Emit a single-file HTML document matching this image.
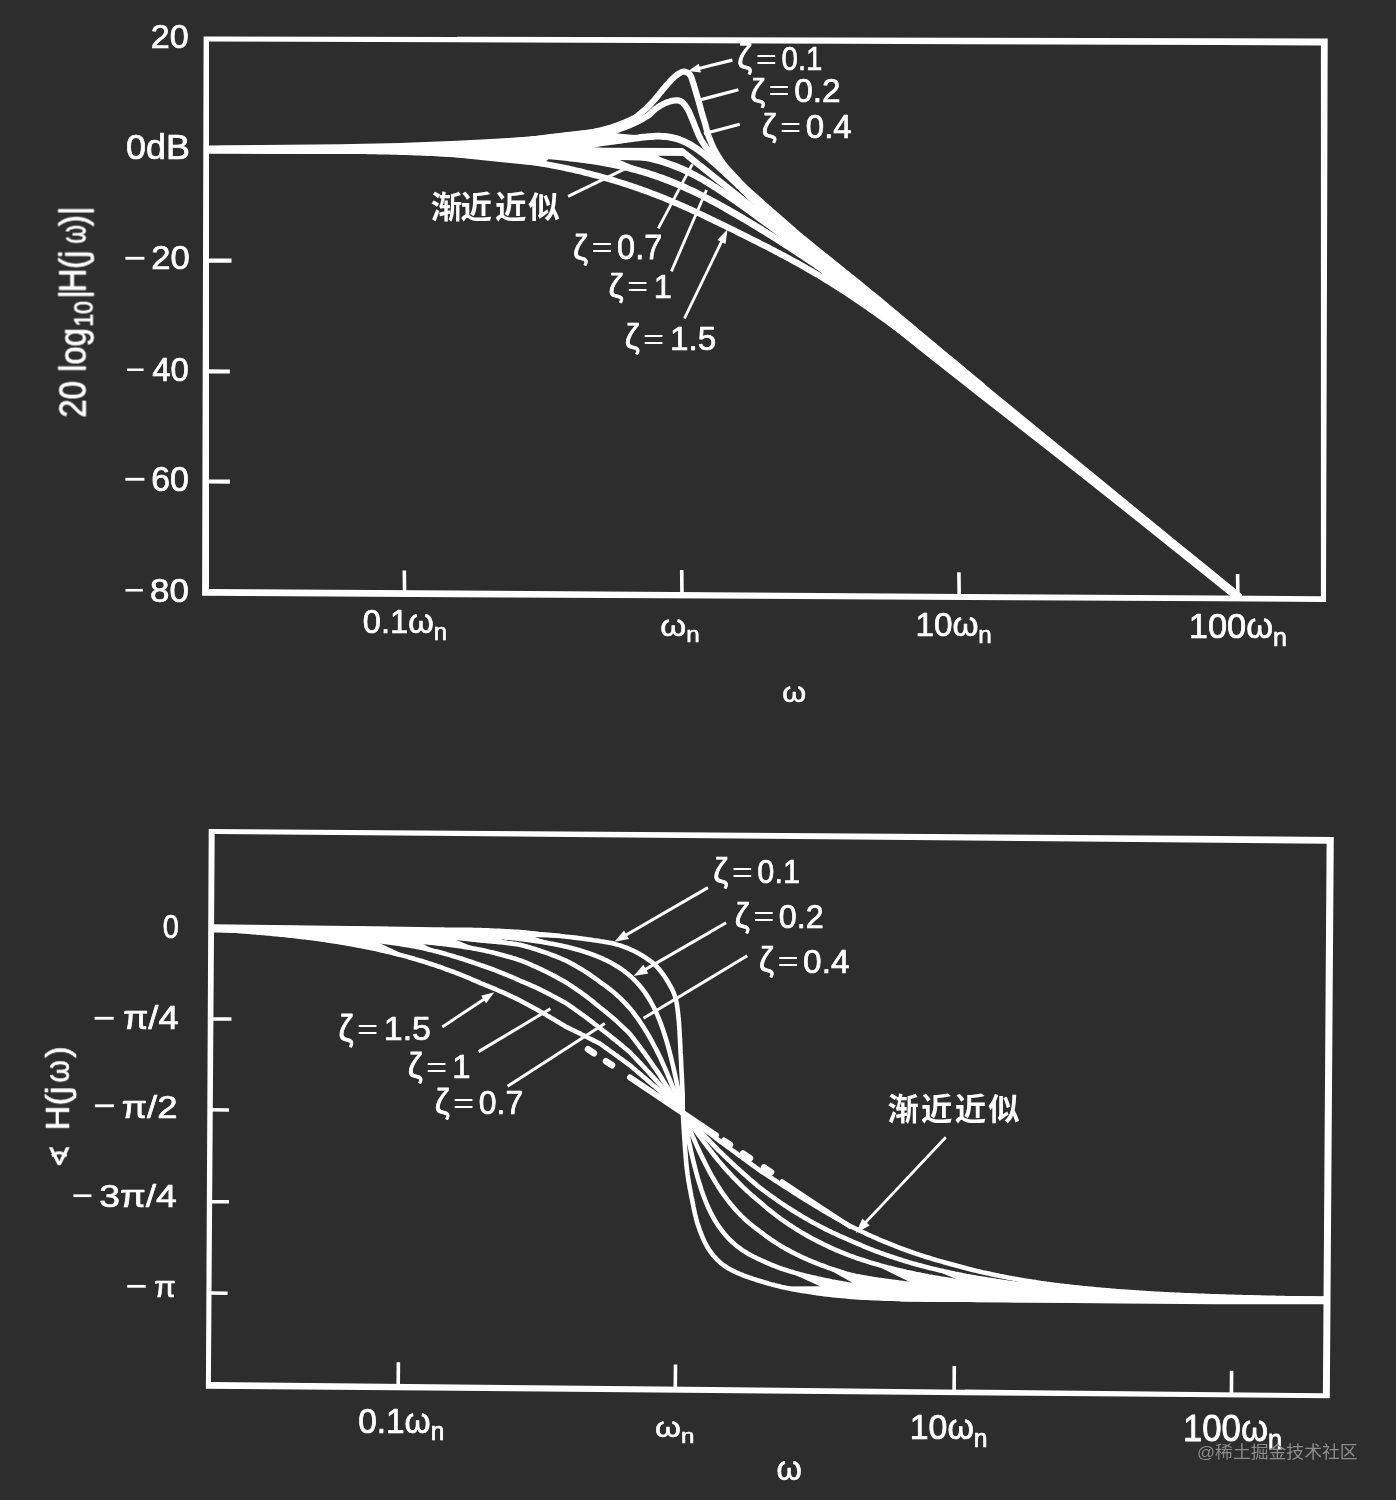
<!DOCTYPE html>
<html lang="zh"><head><meta charset="utf-8"><title>二阶系统伯德图</title>
<style>html,body{margin:0;padding:0;background:#2d2d2d;}svg{display:block}text{white-space:pre}</style></head>
<body><svg width="1396" height="1500" viewBox="0 0 1396 1500">
<defs><filter id="soft" x="0" y="0" width="1396" height="1500" filterUnits="userSpaceOnUse"><feGaussianBlur stdDeviation="0.55"/></filter></defs>
<rect width="1396" height="1500" fill="#2d2d2d"/>
<g filter="url(#soft)">
<path d="M203.6 36.4 L1327.7 38.5 L1326.0 601.9 L202.1 595.8 Z M209.0 41.5 L1320.9 45.4 L1320.9 596.2 L209.0 589.0 Z" fill="#fff" fill-rule="evenodd"/>
<line x1="206.0" y1="260.6" x2="231.5" y2="260.7" stroke="#fff" stroke-width="4.2" stroke-linecap="butt"/>
<line x1="206.0" y1="371.4" x2="229.9" y2="371.5" stroke="#fff" stroke-width="4.2" stroke-linecap="butt"/>
<line x1="206.0" y1="481.5" x2="229.9" y2="481.6" stroke="#fff" stroke-width="4.2" stroke-linecap="butt"/>
<line x1="404.3" y1="570.4" x2="404.6" y2="593.0" stroke="#fff" stroke-width="3.6" stroke-linecap="butt"/>
<line x1="681.7" y1="570.0" x2="682.0" y2="595.0" stroke="#fff" stroke-width="3.6" stroke-linecap="butt"/>
<line x1="958.9" y1="572.3" x2="959.2" y2="596.0" stroke="#fff" stroke-width="3.6" stroke-linecap="butt"/>
<line x1="1237.6" y1="574.0" x2="1237.9" y2="598.0" stroke="#fff" stroke-width="3.6" stroke-linecap="butt"/>
<polyline points="209.4,149.6 212.0,149.6 214.6,149.6 217.2,149.6 219.8,149.6 222.4,149.6 225.0,149.6 227.6,149.6 230.2,149.7 232.8,149.7 235.4,149.7 238.0,149.7 240.6,149.7 243.2,149.7 245.8,149.7 248.4,149.7 251.0,149.7 253.6,149.7 256.2,149.7 258.8,149.7 261.4,149.8 264.0,149.8 266.6,149.8 269.2,149.8 271.8,149.8 274.4,149.8 277.0,149.8 279.6,149.8 282.2,149.8 284.8,149.8 287.4,149.8 290.0,149.8 292.6,149.8 295.2,149.8 297.8,149.9 300.4,149.9 303.0,149.9 305.6,149.9 308.2,149.9 310.8,149.9 313.4,149.9 316.0,149.9 318.6,149.9 321.2,149.9 323.8,149.9 326.4,149.9 329.0,149.9 331.6,149.9 334.2,149.9 336.8,149.9 339.4,149.9 342.0,149.9 344.6,150.0 347.2,150.0 349.8,150.0 352.4,150.0 355.0,150.0 357.6,150.0 360.2,150.0 362.8,150.0 365.4,150.0 368.0,150.0 370.6,150.0 373.2,150.0 375.8,150.0 378.4,150.0 381.0,150.0 383.6,150.0 386.2,150.0 388.8,150.0 391.4,150.0 394.0,150.0 396.6,150.0 399.2,150.0 401.8,150.0 404.4,150.0 407.0,149.9 409.6,149.9 412.2,149.9 414.8,149.9 417.4,149.9 420.0,149.9 422.5,149.9 425.1,149.9 427.7,149.9 430.3,149.9 432.9,149.9 435.5,149.8 438.1,149.8 440.7,149.8 443.3,149.8 445.9,149.8 448.5,149.8 451.1,149.7 453.7,149.7 456.3,149.7 458.9,149.7 461.5,149.6 464.1,149.6 466.7,149.6 469.3,149.5 471.9,149.5 474.5,149.5 477.1,149.4 479.7,149.4 482.3,149.4 484.9,149.3 487.5,149.3 490.1,149.2 492.7,149.2 495.3,149.1 497.9,149.1 500.5,149.0 503.1,148.9 505.7,148.9 508.3,148.8 510.9,148.7 513.5,148.7 516.1,148.6 518.7,148.5 521.3,148.4 523.9,148.3 526.5,148.2 529.1,148.1 531.7,148.0 534.3,147.9 536.9,147.8 539.5,147.7 542.1,147.6 544.7,147.4 547.3,147.3 549.9,147.1 552.5,147.0 555.1,146.8 557.7,146.7 560.3,146.5 562.9,146.3 565.5,146.2 568.1,146.0 570.7,145.8 573.3,145.6 575.9,145.3 578.5,145.1 581.1,144.9 583.7,144.6 586.3,144.4 588.9,144.1 591.5,143.9 594.1,143.6 596.7,143.3 599.3,143.0 601.9,142.7 604.5,142.4 607.1,142.0 609.7,141.7 612.3,141.3 614.9,141.0 617.5,140.6 620.1,140.3 622.7,139.9 625.3,139.5 627.9,139.2 630.5,138.8 633.1,138.5 635.7,138.1 638.3,137.8 640.9,137.4 643.5,137.1 646.1,136.9 648.7,136.6 651.3,136.5 653.9,136.3 656.5,136.2 659.1,136.2 661.7,136.3 664.3,136.5 666.9,136.7 669.5,137.1 672.1,137.6 674.7,138.2 677.3,138.9 679.9,139.8 682.5,140.8 685.1,142.0 687.7,143.3 690.3,144.7 692.9,146.3 695.5,148.0 698.1,149.8 700.7,151.6 703.3,153.6 705.9,155.7 708.5,157.9 711.1,160.1 713.7,162.3 716.3,164.6 718.9,167.0 721.5,169.4 724.1,171.8 726.7,174.2 729.3,176.6 731.9,179.1 734.5,181.5 737.1,184.0 739.7,186.4 742.3,188.9 744.9,191.4 747.5,193.8 750.1,196.3 752.7,198.7 755.3,201.1 757.9,203.6 760.5,206.0 763.1,208.4 765.7,210.8 768.3,213.2 770.9,215.5 773.5,217.9 776.1,220.3 778.7,222.6 781.3,224.9 783.9,227.3 786.5,229.6 789.1,231.9 791.7,234.2 794.3,236.5 796.9,238.8 799.5,241.1 802.1,243.3 804.7,245.6 807.3,247.9 809.9,250.1 812.5,252.3 815.1,254.6 817.7,256.8 820.3,259.0 822.9,261.3 825.5,263.5 828.1,265.7 830.7,267.9 833.3,270.1 835.9,272.3 838.5,274.5 841.1,276.6 843.7,278.8 846.3,281.0 848.9,283.2 851.5,285.3 854.1,287.5 856.7,289.7 859.3,291.8 861.9,294.0 864.5,296.1 867.1,298.3 869.7,300.4 872.3,302.6 874.9,304.7 877.5,306.9 880.1,309.0 882.7,311.1 885.3,313.3 887.9,315.4 890.5,317.5 893.1,319.6 895.7,321.8 898.3,323.9 900.9,326.0 903.5,328.1 906.1,330.3 908.7,332.4 911.3,334.5 913.9,336.6 916.5,338.7 919.1,340.8 921.7,342.9 924.3,345.0 926.9,347.1 929.5,349.3 932.1,351.4 934.7,353.5 937.3,355.6 939.9,357.7 942.5,359.8 945.1,361.9 947.7,364.0 950.3,366.1 952.9,368.2 955.5,370.3 958.1,372.4 960.7,374.5 963.3,376.6 965.9,378.7 968.5,380.8 971.1,382.9 973.7,385.0 976.3,387.0 978.9,389.1 981.5,391.2 984.1,393.3 986.7,395.4 989.3,397.5 991.9,399.6 994.5,401.7 997.1,403.8 999.7,405.9" fill="none" stroke="#fff" stroke-width="6.8" stroke-linejoin="round" stroke-linecap="butt"/>
<polyline points="209.4,149.6 212.0,149.6 214.6,149.6 217.2,149.6 219.8,149.6 222.4,149.6 225.0,149.7 227.6,149.7 230.2,149.7 232.8,149.7 235.4,149.7 238.0,149.7 240.6,149.7 243.2,149.7 245.8,149.7 248.4,149.7 251.0,149.7 253.6,149.8 256.2,149.8 258.8,149.8 261.4,149.8 264.0,149.8 266.6,149.8 269.2,149.8 271.8,149.8 274.4,149.8 277.0,149.8 279.6,149.8 282.2,149.9 284.8,149.9 287.4,149.9 290.0,149.9 292.6,149.9 295.2,149.9 297.8,149.9 300.4,149.9 303.0,149.9 305.6,149.9 308.2,149.9 310.8,150.0 313.4,150.0 316.0,150.0 318.6,150.0 321.2,150.0 323.8,150.0 326.4,150.0 329.0,150.0 331.6,150.0 334.2,150.0 336.8,150.0 339.4,150.1 342.0,150.1 344.6,150.1 347.2,150.1 349.8,150.1 352.4,150.1 355.0,150.1 357.6,150.1 360.2,150.1 362.8,150.1 365.4,150.1 368.0,150.2 370.6,150.2 373.2,150.2 375.8,150.2 378.4,150.2 381.0,150.2 383.6,150.2 386.2,150.2 388.8,150.2 391.4,150.2 394.0,150.2 396.6,150.2 399.2,150.3 401.8,150.3 404.4,150.3 407.0,150.3 409.6,150.3 412.2,150.3 414.8,150.3 417.4,150.3 420.0,150.3 422.5,150.3 425.1,150.3 427.7,150.4 430.3,150.4 432.9,150.4 435.5,150.4 438.1,150.4 440.7,150.4 443.3,150.4 445.9,150.4 448.5,150.4 451.1,150.4 453.7,150.4 456.3,150.5 458.9,150.5 461.5,150.5 464.1,150.5 466.7,150.5 469.3,150.5 471.9,150.5 474.5,150.5 477.1,150.5 479.7,150.5 482.3,150.6 484.9,150.6 487.5,150.6 490.1,150.6 492.7,150.6 495.3,150.6 497.9,150.6 500.5,150.6 503.1,150.6 505.7,150.7 508.3,150.7 510.9,150.7 513.5,150.7 516.1,150.7 518.7,150.7 521.3,150.7 523.9,150.8 526.5,150.8 529.1,150.8 531.7,150.8 534.3,150.8 536.9,150.9 539.5,150.9 542.1,150.9 544.7,150.9 547.3,151.0 549.9,151.0 552.5,151.0 555.1,151.1 557.7,151.1 560.3,151.1 562.9,151.2 565.5,151.2 568.1,151.3 570.7,151.3 573.3,151.4 575.9,151.4 578.5,151.5 581.1,151.6 583.7,151.7 586.3,151.7 588.9,151.8 591.5,151.9 594.1,152.1 596.7,152.2 599.3,152.3 601.9,152.4 604.5,152.6 607.1,152.8 609.7,152.9 612.3,153.1 614.9,153.3 617.5,153.6 620.1,153.8 622.7,154.1 625.3,154.4 627.9,154.7 630.5,155.0 633.1,155.4 635.7,155.7 638.3,156.2 640.9,156.6 643.5,157.1 646.1,157.6 648.7,158.2 651.3,158.8 653.9,159.4 656.5,160.0 659.1,160.8 661.7,161.5 664.3,162.3 666.9,163.2 669.5,164.1 672.1,165.0 674.7,166.0 677.3,167.0 679.9,168.1 682.5,169.2 685.1,170.4 687.7,171.6 690.3,172.9 692.9,174.2 695.5,175.6 698.1,177.0 700.7,178.4 703.3,179.9 705.9,181.5 708.5,183.0 711.1,184.6 713.7,186.3 716.3,187.9 718.9,189.6 721.5,191.3 724.1,193.1 726.7,194.8 729.3,196.6 731.9,198.4 734.5,200.2 737.1,202.0 739.7,203.9 742.3,205.7 744.9,207.6 747.5,209.5 750.1,211.3 752.7,213.2 755.3,215.1 757.9,217.0 760.5,218.9 763.1,220.8 765.7,222.7 768.3,224.6 770.9,226.5 773.5,228.4 776.1,230.4 778.7,232.3 781.3,234.2 783.9,236.1 786.5,238.0 789.1,240.0 791.7,241.9 794.3,243.8 796.9,245.8 799.5,247.7 802.1,249.7 804.7,251.6 807.3,253.6 809.9,255.6 812.5,257.5 815.1,259.5 817.7,261.5 820.3,263.5 822.9,265.4 825.5,267.4 828.1,269.4 830.7,271.4 833.3,273.5 835.9,275.5 838.5,277.5 841.1,279.5 843.7,281.5 846.3,283.6 848.9,285.6 851.5,287.6 854.1,289.7 856.7,291.7 859.3,293.8 861.9,295.8 864.5,297.9 867.1,300.0 869.7,302.0 872.3,304.1 874.9,306.2 877.5,308.2 880.1,310.3 882.7,312.4 885.3,314.4 887.9,316.5 890.5,318.6 893.1,320.7 895.7,322.7 898.3,324.8 900.9,326.9 903.5,329.0 906.1,331.1 908.7,333.1 911.3,335.2 913.9,337.3 916.5,339.4 919.1,341.5 921.7,343.5 924.3,345.6 926.9,347.7 929.5,349.8 932.1,351.9 934.7,354.0 937.3,356.0 939.9,358.1 942.5,360.2 945.1,362.3 947.7,364.4 950.3,366.5 952.9,368.5 955.5,370.6 958.1,372.7 960.7,374.8 963.3,376.9 965.9,379.0 968.5,381.0 971.1,383.1 973.7,385.2 976.3,387.3 978.9,389.4 981.5,391.5 984.1,393.5 986.7,395.6 989.3,397.7 991.9,399.8 994.5,401.9 997.1,404.0 999.7,406.0" fill="none" stroke="#fff" stroke-width="6.8" stroke-linejoin="round" stroke-linecap="butt"/>
<polyline points="209.4,149.6 212.0,149.6 214.6,149.6 217.2,149.7 219.8,149.7 222.4,149.7 225.0,149.7 227.6,149.7 230.2,149.7 232.8,149.7 235.4,149.7 238.0,149.7 240.6,149.7 243.2,149.8 245.8,149.8 248.4,149.8 251.0,149.8 253.6,149.8 256.2,149.8 258.8,149.8 261.4,149.8 264.0,149.8 266.6,149.9 269.2,149.9 271.8,149.9 274.4,149.9 277.0,149.9 279.6,149.9 282.2,149.9 284.8,149.9 287.4,149.9 290.0,150.0 292.6,150.0 295.2,150.0 297.8,150.0 300.4,150.0 303.0,150.0 305.6,150.0 308.2,150.0 310.8,150.1 313.4,150.1 316.0,150.1 318.6,150.1 321.2,150.1 323.8,150.1 326.4,150.1 329.0,150.2 331.6,150.2 334.2,150.2 336.8,150.2 339.4,150.2 342.0,150.2 344.6,150.3 347.2,150.3 349.8,150.3 352.4,150.3 355.0,150.3 357.6,150.3 360.2,150.4 362.8,150.4 365.4,150.4 368.0,150.4 370.6,150.4 373.2,150.5 375.8,150.5 378.4,150.5 381.0,150.5 383.6,150.6 386.2,150.6 388.8,150.6 391.4,150.6 394.0,150.7 396.6,150.7 399.2,150.7 401.8,150.7 404.4,150.8 407.0,150.8 409.6,150.8 412.2,150.9 414.8,150.9 417.4,150.9 420.0,151.0 422.5,151.0 425.1,151.0 427.7,151.1 430.3,151.1 432.9,151.2 435.5,151.2 438.1,151.2 440.7,151.3 443.3,151.3 445.9,151.4 448.5,151.4 451.1,151.5 453.7,151.5 456.3,151.6 458.9,151.7 461.5,151.7 464.1,151.8 466.7,151.9 469.3,151.9 471.9,152.0 474.5,152.1 477.1,152.1 479.7,152.2 482.3,152.3 484.9,152.4 487.5,152.5 490.1,152.6 492.7,152.7 495.3,152.8 497.9,152.9 500.5,153.0 503.1,153.1 505.7,153.2 508.3,153.3 510.9,153.4 513.5,153.5 516.1,153.7 518.7,153.8 521.3,154.0 523.9,154.1 526.5,154.3 529.1,154.4 531.7,154.6 534.3,154.8 536.9,154.9 539.5,155.1 542.1,155.3 544.7,155.5 547.3,155.7 549.9,155.9 552.5,156.2 555.1,156.4 557.7,156.6 560.3,156.9 562.9,157.1 565.5,157.4 568.1,157.7 570.7,158.0 573.3,158.3 575.9,158.6 578.5,158.9 581.1,159.3 583.7,159.6 586.3,160.0 588.9,160.3 591.5,160.7 594.1,161.1 596.7,161.5 599.3,162.0 601.9,162.4 604.5,162.9 607.1,163.3 609.7,163.8 612.3,164.4 614.9,164.9 617.5,165.4 620.1,166.0 622.7,166.6 625.3,167.2 627.9,167.8 630.5,168.5 633.1,169.1 635.7,169.8 638.3,170.5 640.9,171.3 643.5,172.0 646.1,172.8 648.7,173.6 651.3,174.5 653.9,175.3 656.5,176.2 659.1,177.1 661.7,178.0 664.3,179.0 666.9,180.0 669.5,181.0 672.1,182.0 674.7,183.1 677.3,184.2 679.9,185.3 682.5,186.4 685.1,187.6 687.7,188.8 690.3,190.0 692.9,191.2 695.5,192.4 698.1,193.7 700.7,195.0 703.3,196.3 705.9,197.7 708.5,199.0 711.1,200.4 713.7,201.8 716.3,203.2 718.9,204.6 721.5,206.1 724.1,207.5 726.7,209.0 729.3,210.5 731.9,212.0 734.5,213.5 737.1,215.0 739.7,216.5 742.3,218.0 744.9,219.6 747.5,221.1 750.1,222.7 752.7,224.3 755.3,225.8 757.9,227.4 760.5,229.0 763.1,230.6 765.7,232.2 768.3,233.8 770.9,235.4 773.5,237.0 776.1,238.7 778.7,240.3 781.3,242.0 783.9,243.6 786.5,245.3 789.1,247.0 791.7,248.7 794.3,250.4 796.9,252.1 799.5,253.8 802.1,255.5 804.7,257.3 807.3,259.0 809.9,260.8 812.5,262.5 815.1,264.3 817.7,266.1 820.3,267.9 822.9,269.8 825.5,271.6 828.1,273.4 830.7,275.3 833.3,277.1 835.9,279.0 838.5,280.9 841.1,282.8 843.7,284.7 846.3,286.6 848.9,288.5 851.5,290.4 854.1,292.4 856.7,294.3 859.3,296.3 861.9,298.2 864.5,300.2 867.1,302.1 869.7,304.1 872.3,306.1 874.9,308.1 877.5,310.1 880.1,312.1 882.7,314.1 885.3,316.1 887.9,318.1 890.5,320.1 893.1,322.1 895.7,324.1 898.3,326.1 900.9,328.2 903.5,330.2 906.1,332.2 908.7,334.3 911.3,336.3 913.9,338.3 916.5,340.4 919.1,342.4 921.7,344.4 924.3,346.5 926.9,348.5 929.5,350.6 932.1,352.6 934.7,354.7 937.3,356.7 939.9,358.8 942.5,360.9 945.1,362.9 947.7,365.0 950.3,367.0 952.9,369.1 955.5,371.1 958.1,373.2 960.7,375.3 963.3,377.3 965.9,379.4 968.5,381.5 971.1,383.5 973.7,385.6 976.3,387.7 978.9,389.7 981.5,391.8 984.1,393.9 986.7,395.9 989.3,398.0 991.9,400.1 994.5,402.1 997.1,404.2 999.7,406.3" fill="none" stroke="#fff" stroke-width="6.8" stroke-linejoin="round" stroke-linecap="butt"/>
<polyline points="209.4,149.7 212.0,149.7 214.6,149.7 217.2,149.7 219.8,149.7 222.4,149.7 225.0,149.7 227.6,149.8 230.2,149.8 232.8,149.8 235.4,149.8 238.0,149.8 240.6,149.8 243.2,149.8 245.8,149.9 248.4,149.9 251.0,149.9 253.6,149.9 256.2,149.9 258.8,149.9 261.4,149.9 264.0,150.0 266.6,150.0 269.2,150.0 271.8,150.0 274.4,150.0 277.0,150.0 279.6,150.1 282.2,150.1 284.8,150.1 287.4,150.1 290.0,150.1 292.6,150.2 295.2,150.2 297.8,150.2 300.4,150.2 303.0,150.2 305.6,150.3 308.2,150.3 310.8,150.3 313.4,150.3 316.0,150.4 318.6,150.4 321.2,150.4 323.8,150.4 326.4,150.5 329.0,150.5 331.6,150.5 334.2,150.6 336.8,150.6 339.4,150.6 342.0,150.7 344.6,150.7 347.2,150.7 349.8,150.8 352.4,150.8 355.0,150.9 357.6,150.9 360.2,150.9 362.8,151.0 365.4,151.0 368.0,151.1 370.6,151.1 373.2,151.2 375.8,151.2 378.4,151.3 381.0,151.3 383.6,151.4 386.2,151.5 388.8,151.5 391.4,151.6 394.0,151.6 396.6,151.7 399.2,151.8 401.8,151.9 404.4,151.9 407.0,152.0 409.6,152.1 412.2,152.2 414.8,152.3 417.4,152.4 420.0,152.5 422.5,152.6 425.1,152.7 427.7,152.8 430.3,152.9 432.9,153.0 435.5,153.1 438.1,153.2 440.7,153.3 443.3,153.5 445.9,153.6 448.5,153.8 451.1,153.9 453.7,154.0 456.3,154.2 458.9,154.4 461.5,154.5 464.1,154.7 466.7,154.9 469.3,155.1 471.9,155.3 474.5,155.5 477.1,155.7 479.7,155.9 482.3,156.1 484.9,156.3 487.5,156.6 490.1,156.8 492.7,157.1 495.3,157.3 497.9,157.6 500.5,157.9 503.1,158.1 505.7,158.4 508.3,158.7 510.9,159.1 513.5,159.4 516.1,159.7 518.7,160.0 521.3,160.4 523.9,160.8 526.5,161.1 529.1,161.5 531.7,161.9 534.3,162.3 536.9,162.7 539.5,163.2 542.1,163.6 544.7,164.0 547.3,164.5 549.9,165.0 552.5,165.5 555.1,166.0 557.7,166.5 560.3,167.0 562.9,167.5 565.5,168.1 568.1,168.6 570.7,169.2 573.3,169.8 575.9,170.4 578.5,171.0 581.1,171.6 583.7,172.2 586.3,172.9 588.9,173.5 591.5,174.2 594.1,174.9 596.7,175.6 599.3,176.3 601.9,177.0 604.5,177.7 607.1,178.5 609.7,179.2 612.3,180.0 614.9,180.8 617.5,181.6 620.1,182.4 622.7,183.2 625.3,184.0 627.9,184.9 630.5,185.7 633.1,186.6 635.7,187.5 638.3,188.4 640.9,189.3 643.5,190.3 646.1,191.2 648.7,192.2 651.3,193.2 653.9,194.1 656.5,195.1 659.1,196.2 661.7,197.2 664.3,198.2 666.9,199.3 669.5,200.4 672.1,201.5 674.7,202.6 677.3,203.7 679.9,204.8 682.5,205.9 685.1,207.1 687.7,208.2 690.3,209.4 692.9,210.6 695.5,211.8 698.1,213.0 700.7,214.2 703.3,215.4 705.9,216.7 708.5,217.9 711.1,219.2 713.7,220.4 716.3,221.7 718.9,222.9 721.5,224.2 724.1,225.5 726.7,226.8 729.3,228.1 731.9,229.3 734.5,230.6 737.1,231.9 739.7,233.2 742.3,234.5 744.9,235.8 747.5,237.1 750.1,238.4 752.7,239.7 755.3,241.0 757.9,242.3 760.5,243.7 763.1,245.0 765.7,246.3 768.3,247.6 770.9,249.0 773.5,250.3 776.1,251.7 778.7,253.0 781.3,254.4 783.9,255.8 786.5,257.2 789.1,258.6 791.7,260.0 794.3,261.4 796.9,262.8 799.5,264.3 802.1,265.7 804.7,267.2 807.3,268.7 809.9,270.2 812.5,271.7 815.1,273.2 817.7,274.7 820.3,276.3 822.9,277.9 825.5,279.5 828.1,281.1 830.7,282.7 833.3,284.3 835.9,286.0 838.5,287.6 841.1,289.3 843.7,291.0 846.3,292.7 848.9,294.4 851.5,296.1 854.1,297.9 856.7,299.6 859.3,301.4 861.9,303.2 864.5,305.0 867.1,306.8 869.7,308.6 872.3,310.4 874.9,312.2 877.5,314.1 880.1,315.9 882.7,317.8 885.3,319.6 887.9,321.5 890.5,323.4 893.1,325.3 895.7,327.2 898.3,329.1 900.9,331.0 903.5,332.9 906.1,334.9 908.7,336.8 911.3,338.7 913.9,340.7 916.5,342.6 919.1,344.6 921.7,346.5 924.3,348.5 926.9,350.5 929.5,352.4 932.1,354.4 934.7,356.4 937.3,358.4 939.9,360.4 942.5,362.4 945.1,364.4 947.7,366.4 950.3,368.4 952.9,370.4 955.5,372.4 958.1,374.4 960.7,376.4 963.3,378.4 965.9,380.4 968.5,382.5 971.1,384.5 973.7,386.5 976.3,388.5 978.9,390.6 981.5,392.6 984.1,394.6 986.7,396.7 989.3,398.7 991.9,400.8 994.5,402.8 997.1,404.9 999.7,406.9" fill="none" stroke="#fff" stroke-width="6.2" stroke-linejoin="round" stroke-linecap="butt"/>
<polyline points="209.0,149.0 215.6,149.0 224.1,148.9 234.2,148.9 245.6,148.8 257.9,148.7 270.8,148.7 283.8,148.6 296.7,148.5 309.2,148.4 320.8,148.3 331.2,148.3 340.0,148.2 347.5,148.1 354.3,148.1 360.5,148.0 366.0,147.9 371.0,147.9 375.7,147.8 380.0,147.7 384.1,147.6 388.1,147.6 392.0,147.5 395.9,147.4 400.0,147.3 404.0,147.2 407.8,147.1 411.4,147.0 414.8,146.9 418.1,146.8 421.2,146.7 424.3,146.6 427.4,146.5 430.5,146.4 433.6,146.3 436.7,146.1 440.0,146.0 443.3,145.8 446.7,145.7 450.0,145.5 453.3,145.3 456.7,145.1 460.0,144.9 463.3,144.7 466.7,144.5 470.0,144.3 473.3,144.1 476.7,143.8 480.0,143.6 483.3,143.4 486.7,143.1 490.0,142.9 493.3,142.7 496.7,142.4 500.0,142.2 503.3,141.9 506.7,141.7 510.0,141.4 513.3,141.1 516.7,140.8 520.0,140.5 523.3,140.2 526.7,139.8 530.0,139.5 533.3,139.1 536.7,138.8 540.0,138.4 543.3,138.0 546.7,137.6 550.0,137.2 553.3,136.8 556.7,136.4 560.0,136.0 563.4,135.6 566.8,135.2 570.2,134.8 573.7,134.4 577.2,134.0 580.6,133.6 584.0,133.2 587.4,132.7 590.7,132.2 593.9,131.7 597.0,131.1 600.0,130.5 602.9,129.8 605.8,129.0 608.6,128.2 611.4,127.4 614.1,126.5 616.7,125.6 619.2,124.6 621.6,123.7 623.9,122.8 626.1,121.9 628.1,121.0 630.0,120.2 631.7,119.4 633.2,118.6 634.5,117.9 635.7,117.2 636.8,116.5 637.7,115.7 638.6,115.0 639.5,114.3 640.4,113.6 641.2,112.8 642.1,112.0 643.1,111.2 644.1,110.4 645.1,109.5 646.0,108.6 647.0,107.7 647.9,106.8 648.8,105.9 649.7,105.0 650.6,104.0 651.5,103.1 652.3,102.1 653.2,101.2 654.1,100.2 655.0,99.2 655.8,98.2 656.7,97.2 657.5,96.2 658.4,95.1 659.2,94.1 660.0,93.0 660.9,92.0 661.7,91.0 662.5,90.0 663.3,89.0 664.1,88.1 664.9,87.2 665.7,86.3 666.5,85.3 667.3,84.4 668.1,83.5 668.8,82.7 669.6,81.8 670.4,81.0 671.1,80.2 671.8,79.5 672.5,78.8 673.2,78.1 673.9,77.5 674.5,76.9 675.1,76.3 675.8,75.8 676.4,75.3 677.0,74.9 677.5,74.5 678.1,74.1 678.6,73.7 679.2,73.4 679.7,73.1 680.2,72.8 680.7,72.6 681.1,72.3 681.6,72.1 682.0,72.0 682.4,71.9 682.8,71.8 683.2,71.7 683.6,71.7 684.0,71.6 684.4,71.7 684.8,71.7 685.2,71.8 685.6,71.9 686.1,72.0 686.5,72.2 686.9,72.4 687.4,72.6 687.8,72.9 688.3,73.2 688.7,73.5 689.1,73.8 689.5,74.2 689.9,74.6 690.2,75.1 690.5,75.6 690.8,76.1 691.1,76.7 691.3,77.3 691.6,78.0 691.8,78.7 692.1,79.4 692.3,80.1 692.5,80.8 692.7,81.6 693.0,82.3 693.2,83.1 693.5,83.9 693.7,84.6 694.0,85.5 694.2,86.3 694.5,87.1 694.7,88.0 695.0,88.8 695.2,89.7 695.5,90.5 695.7,91.4 696.0,92.3 696.2,93.1 696.5,93.9 696.7,94.8 697.0,95.6 697.2,96.4 697.5,97.3 697.7,98.1 698.0,98.9 698.2,99.8 698.5,100.6 698.7,101.5 699.0,102.3 699.2,103.2 699.4,104.1 699.7,105.0 699.9,105.9 700.2,106.8 700.4,107.8 700.7,108.7 700.9,109.6 701.2,110.6 701.4,111.5 701.7,112.4 701.9,113.3 702.2,114.2 702.5,115.1 702.7,115.9 703.0,116.8 703.3,117.6 703.5,118.5 703.8,119.3 704.1,120.2 704.3,121.0 704.6,121.8 704.8,122.6 705.1,123.4 705.3,124.2 705.5,125.0 705.7,125.8 705.9,126.5 706.1,127.3 706.3,128.0 706.4,128.8 706.6,129.5 706.8,130.2 707.0,131.0 707.2,131.7 707.4,132.4 707.6,133.2 707.8,134.0 708.1,134.7 708.4,135.5 708.6,136.2 708.9,137.0 709.2,137.8 709.5,138.5 709.8,139.3 710.1,140.0 710.4,140.8 710.7,141.5 711.0,142.3 711.3,143.1 711.7,143.8 712.0,144.6 712.3,145.3 712.7,146.1 713.0,146.8 713.4,147.6 713.7,148.3 714.1,149.1 714.5,149.8 714.9,150.6 715.3,151.3 715.7,152.0 716.1,152.8 716.6,153.5 717.0,154.3 717.4,155.0 717.9,155.8 718.3,156.5 718.8,157.3 719.3,158.0 719.8,158.8 720.3,159.5 720.8,160.3 721.3,161.0 721.8,161.7 722.3,162.4 722.7,163.0 723.2,163.7 723.7,164.3 724.3,165.0 724.9,165.8 725.5,166.6 726.3,167.4 727.1,168.4 728.0,169.4 729.0,170.6 730.2,171.8 731.4,173.2 732.8,174.7 734.1,176.2 735.6,177.7 737.0,179.3 738.5,180.8 739.9,182.3 741.3,183.8 742.7,185.2 744.0,186.5 745.2,187.7 746.5,188.9 747.7,190.0 748.8,191.1 750.0,192.1 751.1,193.2 752.3,194.2 753.4,195.2 754.6,196.2 755.7,197.2 756.9,198.2 758.0,199.2 759.1,200.2 760.3,201.2 761.4,202.3 762.5,203.3 763.7,204.3 764.8,205.3 765.9,206.3 767.0,207.3 768.2,208.3 769.3,209.3 770.4,210.3 771.6,211.3 772.8,212.3 774.0,213.4 775.1,214.4 776.3,215.4 777.5,216.5 778.8,217.5 780.0,218.6 781.2,219.6 782.4,220.7 783.6,221.7 784.8,222.8 786.0,223.8 787.1,224.8 788.2,225.7 789.2,226.7 790.2,227.5 791.2,228.4 792.3,229.3 793.3,230.3 794.5,231.3 795.7,232.3 797.1,233.5 798.6,234.8 800.3,236.2 802.2,237.8 804.2,239.4 806.4,241.2 808.7,243.1 811.1,245.0 813.5,247.1 816.1,249.1 818.7,251.2 821.2,253.3 823.8,255.4 826.4,257.5 828.9,259.5 831.4,261.5 834.0,263.6 836.6,265.7 839.3,267.8 841.9,270.0 844.6,272.1 847.3,274.2 849.9,276.4 852.5,278.5 855.1,280.5 857.6,282.5 860.0,284.5 862.3,286.4 864.4,288.1 866.4,289.7 868.4,291.3 870.3,292.9 872.2,294.4 874.2,296.0 876.2,297.7 878.4,299.5 880.8,301.5 883.4,303.6 886.2,306.0 889.3,308.6 892.6,311.3 896.1,314.2 899.7,317.3 903.5,320.4 907.3,323.7 911.3,327.0 915.3,330.4 919.4,333.8 923.5,337.2 927.5,340.6 931.6,344.0 935.8,347.5 940.4,351.3 945.2,355.3 950.2,359.4 955.2,363.5 960.1,367.6 964.9,371.6 969.5,375.3 973.6,378.8 977.3,381.8 980.5,384.4 983.0,386.5" fill="none" stroke="#fff" stroke-width="6.2" stroke-linejoin="round" stroke-linecap="butt"/>
<polyline points="520.0,143.0 521.9,142.9 524.4,142.7 527.2,142.5 530.4,142.3 533.8,142.1 537.5,141.8 541.3,141.5 545.2,141.3 549.1,141.0 552.9,140.7 556.5,140.3 560.0,140.0 563.4,139.7 566.8,139.3 570.2,139.0 573.7,138.7 577.2,138.3 580.6,137.9 584.0,137.5 587.4,137.1 590.7,136.6 593.9,136.1 597.0,135.6 600.0,135.0 602.9,134.3 605.7,133.6 608.5,132.8 611.2,132.0 613.9,131.1 616.4,130.2 618.9,129.3 621.3,128.4 623.6,127.5 625.9,126.7 628.0,125.8 630.0,125.0 631.9,124.2 633.7,123.4 635.4,122.7 637.0,121.9 638.5,121.2 639.9,120.4 641.3,119.7 642.6,119.0 643.8,118.2 644.9,117.5 646.0,116.9 647.1,116.2 648.1,115.6 648.9,114.9 649.7,114.3 650.4,113.7 651.0,113.1 651.5,112.5 652.1,112.0 652.6,111.4 653.2,110.8 653.8,110.3 654.4,109.7 655.1,109.2 655.9,108.7 656.6,108.1 657.5,107.6 658.3,107.0 659.1,106.5 660.0,105.9 660.8,105.4 661.7,104.9 662.5,104.5 663.4,104.0 664.3,103.6 665.1,103.2 665.9,102.8 666.8,102.5 667.7,102.2 668.6,101.9 669.5,101.6 670.3,101.3 671.2,101.1 672.1,100.9 672.9,100.7 673.7,100.6 674.5,100.5 675.2,100.4 675.9,100.4 676.6,100.4 677.2,100.4 677.8,100.4 678.4,100.5 679.0,100.6 679.5,100.8 680.1,101.0 680.6,101.2 681.1,101.5 681.7,101.8 682.2,102.2 682.7,102.6 683.3,103.2 683.8,103.7 684.3,104.4 684.9,105.0 685.4,105.8 685.9,106.5 686.4,107.2 686.9,108.0 687.3,108.7 687.8,109.5 688.2,110.2 688.6,110.9 689.0,111.6 689.3,112.4 689.7,113.1 690.0,113.8 690.3,114.6 690.6,115.3 690.9,116.1 691.2,116.9 691.6,117.6 691.9,118.4 692.2,119.2 692.5,120.0 692.9,120.8 693.2,121.7 693.5,122.5 693.9,123.3 694.2,124.2 694.5,125.0 694.9,125.9 695.2,126.7 695.5,127.6 695.9,128.4 696.2,129.2 696.5,130.0 696.9,130.8 697.2,131.6 697.5,132.3 697.8,133.1 698.1,133.9 698.5,134.6 698.8,135.4 699.1,136.1 699.5,136.9 699.8,137.6 700.2,138.3 700.6,139.0 701.0,139.7 701.4,140.4 701.8,141.0 702.2,141.7 702.6,142.3 703.0,143.0 703.4,143.6 703.9,144.3 704.3,144.9 704.8,145.6 705.3,146.3 705.8,147.0 706.3,147.7 706.8,148.4 707.4,149.1 707.9,149.8 708.5,150.5 709.0,151.2 709.6,152.0 710.2,152.7 710.8,153.5 711.4,154.2 712.0,155.0 712.6,155.8 713.2,156.6 713.9,157.4 714.5,158.2 715.1,159.0 715.8,159.9 716.5,160.7 717.1,161.5 717.8,162.4 718.5,163.3 719.3,164.1 720.0,165.0 720.7,165.9 721.5,166.7 722.2,167.6 723.0,168.4 723.8,169.3 724.6,170.1 725.4,171.0 726.2,171.9 727.1,172.9 728.0,173.9 729.0,174.9 730.0,176.0 731.0,177.1 732.1,178.3 733.1,179.4 734.2,180.6 735.3,181.9 736.5,183.1 737.7,184.4 739.0,185.8 740.3,187.2 741.8,188.8 743.3,190.3 745.0,192.0 746.8,193.8 748.7,195.7 750.8,197.7 752.9,199.7 755.2,201.9 757.4,204.1 759.8,206.3 762.1,208.5 764.5,210.7 766.9,212.8 769.3,215.0 771.6,217.0 773.9,219.0 776.3,220.9 778.6,222.9 781.0,224.8 783.4,226.7 785.8,228.6 788.2,230.4 790.6,232.3 793.0,234.2 795.4,236.1 797.9,238.1 800.3,240.0 802.8,242.0 805.5,244.2 808.4,246.5 811.2,248.8 814.1,251.1 816.9,253.4 819.7,255.7 822.3,257.7 824.6,259.7 826.8,261.4 828.6,262.8 830.0,264.0" fill="none" stroke="#fff" stroke-width="6.2" stroke-linejoin="round" stroke-linecap="butt"/>
<polyline points="209.0,149.6 682.0,151.3 1000.0,404.7" fill="none" stroke="#fff" stroke-width="6.4" stroke-linejoin="round" stroke-linecap="butt"/>
<polygon points="209.0,149.0 213.0,149.0 217.0,149.0 221.0,148.9 225.0,148.9 229.0,148.9 233.0,148.9 237.0,148.8 241.0,148.8 245.0,148.8 249.0,148.8 253.0,148.8 257.0,148.7 261.0,148.7 265.0,148.7 269.0,148.7 273.0,148.6 277.0,148.6 281.0,148.6 285.0,148.6 289.0,148.5 293.0,148.5 297.0,148.5 301.0,148.5 305.0,148.5 309.0,148.4 313.0,148.4 317.0,148.4 321.0,148.3 325.0,148.3 329.0,148.3 333.0,148.3 337.0,148.2 341.0,148.2 345.0,148.2 349.0,148.1 353.0,148.1 357.0,148.0 361.0,148.0 365.0,147.9 369.0,147.9 373.0,147.8 377.0,147.8 381.0,147.7 385.0,147.6 389.0,147.5 393.0,147.5 397.0,147.4 401.0,147.3 405.0,147.2 409.0,147.1 413.0,147.0 417.0,146.9 421.0,146.8 425.0,146.6 429.0,146.5 433.0,146.3 437.0,146.1 441.0,146.0 445.0,145.8 449.0,145.5 453.0,145.3 457.0,145.1 461.0,144.9 465.0,144.6 469.0,144.3 473.0,144.1 477.0,143.8 481.0,143.5 485.0,143.3 489.0,143.0 493.0,142.7 497.0,142.4 501.0,142.1 505.0,141.8 509.0,141.5 513.0,141.1 517.0,140.8 521.0,140.4 525.0,140.0 529.0,139.6 533.0,139.2 537.0,138.7 541.0,138.3 545.0,137.8 549.0,137.3 553.0,136.9 557.0,136.4 560.0,136.0 520.0,150.4 560.0,166.9 557.0,166.3 553.0,165.5 549.0,164.8 545.0,164.1 541.0,163.4 537.0,162.7 533.0,162.1 529.0,161.5 525.0,160.9 521.0,160.4 517.0,159.8 513.0,159.3 509.0,158.8 505.0,158.4 501.0,157.9 497.0,157.5 493.0,157.1 489.0,156.7 485.0,156.3 481.0,156.0 477.0,155.7 473.0,155.3 469.0,155.0 465.0,154.8 461.0,154.5 457.0,154.2 453.0,154.0 449.0,153.8 445.0,153.6 441.0,153.4 437.0,153.2 433.0,153.0 429.0,152.8 425.0,152.6 421.0,152.5 417.0,152.3 413.0,152.2 409.0,152.1 405.0,152.0 401.0,151.8 397.0,151.7 393.0,151.6 389.0,151.5 385.0,151.4 381.0,151.3 377.0,151.2 373.0,151.2 369.0,151.1 365.0,151.0 361.0,150.9 357.0,150.9 353.0,150.8 349.0,150.8 345.0,150.7 341.0,150.7 337.0,150.6 333.0,150.6 329.0,150.5 325.0,150.5 321.0,150.4 317.0,150.4 313.0,150.3 309.0,150.3 305.0,150.3 301.0,150.2 297.0,150.2 293.0,150.2 289.0,150.1 285.0,150.1 281.0,150.1 277.0,150.0 273.0,150.0 269.0,150.0 265.0,150.0 261.0,149.9 257.0,149.9 253.0,149.9 249.0,149.9 245.0,149.8 241.0,149.8 237.0,149.8 233.0,149.8 229.0,149.8 225.0,149.7 221.0,149.7 217.0,149.7 213.0,149.7 209.0,149.7" fill="#fff"/>
<polygon points="500.0,142.2 504.0,141.9 508.0,141.6 512.0,141.2 516.0,140.9 520.0,140.5 524.0,140.1 528.0,139.7 532.0,139.3 536.0,138.8 540.0,138.4 544.0,137.9 548.0,137.5 552.0,137.0 556.0,136.5 560.0,136.0 564.0,135.5 568.0,135.1 572.0,134.6 576.0,134.2 580.0,133.7 584.0,133.2 588.0,132.6 592.0,132.0 594.0,131.7 594.0,161.1 592.0,160.8 588.0,160.2 584.0,159.6 580.0,159.1 576.0,158.6 572.0,158.1 568.0,157.7 564.0,157.3 560.0,156.9 556.0,156.5 552.0,156.1 548.0,155.8 544.0,155.5 540.0,155.2 536.0,154.9 532.0,154.6 528.0,154.4 524.0,154.1 520.0,153.9 516.0,153.7 512.0,153.5 508.0,153.3 504.0,153.1 500.0,152.9" fill="#fff"/>
<polygon points="590.0,132.3 594.0,131.7 598.0,130.9 602.0,130.0 606.0,129.0 610.0,127.8 614.0,126.5 618.0,125.1 622.0,123.6 626.0,121.9 630.0,120.2 634.0,118.2 638.0,115.5 642.0,112.1 646.0,108.6 650.0,104.6 616.0,133.3 650.0,136.6 646.0,136.9 642.0,137.3 638.0,137.8 634.0,138.3 630.0,138.9 626.0,139.4 622.0,140.0 618.0,140.6 614.0,141.1 610.0,141.7 606.0,142.2 602.0,142.7 598.0,143.1 594.0,143.6 590.0,144.0" fill="#fff"/>
<polygon points="590.0,144.0 594.0,143.6 598.0,143.1 602.0,142.7 606.0,142.2 610.0,141.7 614.0,141.1 618.0,140.6 622.0,140.0 626.0,139.4 630.0,138.9 634.0,138.3 638.0,137.8 640.0,137.6 594.0,147.3 640.0,151.1 638.0,151.1 634.0,151.1 630.0,151.1 626.0,151.1 622.0,151.0 618.0,151.0 614.0,151.0 610.0,151.0 606.0,151.0 602.0,151.0 598.0,151.0 594.0,150.9 590.0,150.9" fill="#fff"/>
<polygon points="590.0,150.9 594.0,150.9 598.0,151.0 602.0,151.0 606.0,151.0 610.0,151.0 614.0,151.0 618.0,151.0 622.0,151.0 626.0,151.1 630.0,151.1 634.0,151.1 638.0,151.1 642.0,151.1 646.0,151.1 650.0,151.1 654.0,151.2 658.0,151.2 662.0,151.2 666.0,151.2 670.0,151.2 674.0,151.2 678.0,151.2 682.0,151.3 686.0,154.4 688.0,156.0 658.0,155.8 688.0,171.8 686.0,170.8 682.0,169.0 678.0,167.3 674.0,165.7 670.0,164.2 666.0,162.9 662.0,161.6 658.0,160.5 654.0,159.4 650.0,158.5 646.0,157.6 642.0,156.8 638.0,156.1 634.0,155.5 630.0,154.9 626.0,154.4 622.0,154.0 618.0,153.6 614.0,153.3 610.0,153.0 606.0,152.7 602.0,152.4 598.0,152.2 594.0,152.0 590.0,151.9" fill="#fff"/>
<polygon points="590.0,151.9 594.0,152.0 598.0,152.2 602.0,152.4 606.0,152.7 610.0,153.0 614.0,153.3 618.0,153.6 622.0,154.0 626.0,154.4 630.0,154.9 634.0,155.5 638.0,156.1 642.0,156.8 646.0,157.6 650.0,158.5 654.0,159.4 658.0,160.5 660.0,161.0 620.0,159.9 660.0,177.4 658.0,176.7 654.0,175.3 650.0,174.0 646.0,172.8 642.0,171.6 638.0,170.5 634.0,169.4 630.0,168.3 626.0,167.4 622.0,166.4 618.0,165.5 614.0,164.7 610.0,163.9 606.0,163.1 602.0,162.4 598.0,161.7 594.0,161.1 590.0,160.5" fill="#fff"/>
<polygon points="712.0,144.6 716.0,152.6 720.0,159.1 724.0,164.7 728.0,169.4 732.0,173.8 736.0,178.2 740.0,182.4 744.0,186.5 748.0,190.3 752.0,193.9 756.0,197.4 760.0,201.0 764.0,204.6 768.0,208.1 772.0,211.7 776.0,215.1 780.0,218.6 784.0,222.1 788.0,225.5 792.0,229.1 796.0,232.6 800.0,235.9 804.0,239.3 808.0,242.5 812.0,245.8 816.0,249.1 820.0,252.3 824.0,255.5 828.0,258.8 828.0,262.4 824.0,259.1 820.0,255.9 816.0,252.7 812.0,249.4 808.0,246.2 804.0,243.0 800.0,239.8 796.0,236.6 792.0,233.4 788.0,230.3 784.0,227.2 780.0,224.0 776.0,220.7 772.0,217.3 768.0,213.8 764.0,210.2 760.0,206.5 756.0,202.7 752.0,198.8 748.0,194.9 744.0,191.0 740.0,186.9 736.0,182.6 732.0,178.2 728.0,173.8 724.0,169.5 720.0,165.0 716.0,160.1 712.0,155.0 722.0,164.6" fill="#fff"/>
<polygon points="728.0,173.8 732.0,178.2 736.0,182.6 740.0,186.9 744.0,191.0 748.0,194.9 752.0,198.8 756.0,202.7 760.0,206.5 764.0,210.2 768.0,213.8 772.0,217.3 776.0,220.7 780.0,224.0 784.0,227.2 788.0,230.3 792.0,233.4 796.0,236.6 800.0,239.8 804.0,243.0 808.0,246.2 812.0,249.4 816.0,252.7 820.0,255.9 824.0,259.1 828.0,262.4 828.0,265.6 824.0,262.2 820.0,258.8 816.0,255.4 812.0,251.9 808.0,248.5 804.0,245.0 800.0,241.5 796.0,238.0 792.0,234.5 788.0,230.9 784.0,227.4 780.0,223.8 776.0,220.2 772.0,216.5 768.0,212.9 764.0,209.2 760.0,205.5 756.0,201.8 752.0,198.1 748.0,194.3 744.0,190.5 740.0,186.7 736.0,183.0 732.0,179.2 728.0,175.4 753.0,199.4" fill="#fff"/>
<polygon points="760.0,205.5 764.0,209.2 768.0,212.9 772.0,216.5 776.0,220.2 780.0,223.8 784.0,227.4 788.0,230.9 792.0,234.5 796.0,238.0 800.0,241.5 804.0,245.0 808.0,248.5 812.0,251.9 816.0,255.4 820.0,258.8 824.0,262.2 828.0,265.6 832.0,269.0 836.0,272.4 840.0,275.7 844.0,279.1 848.0,282.4 852.0,285.8 856.0,289.1 860.0,292.4 864.0,295.7 868.0,299.1 872.0,302.4 876.0,305.6 880.0,308.9 884.0,312.2 888.0,315.5 892.0,318.8 896.0,322.0 900.0,325.3 900.0,325.0 896.0,321.8 892.0,318.6 888.0,315.4 884.0,312.2 880.0,309.1 876.0,305.9 872.0,302.7 868.0,299.5 864.0,296.3 860.0,293.1 856.0,289.9 852.0,286.7 848.0,283.6 844.0,280.4 840.0,277.2 836.0,274.0 832.0,270.8 828.0,267.6 824.0,264.4 820.0,261.2 816.0,258.1 812.0,254.9 808.0,251.7 804.0,248.5 800.0,245.3 796.0,242.1 792.0,238.9 788.0,235.7 784.0,232.5 780.0,229.4 776.0,226.2 772.0,223.0 768.0,219.8 764.0,216.6 760.0,213.4 800.0,243.4" fill="#fff"/>
<polygon points="790.0,237.3 794.0,240.5 798.0,243.7 802.0,246.9 806.0,250.1 810.0,253.3 814.0,256.5 818.0,259.6 822.0,262.8 826.0,266.0 830.0,269.2 834.0,272.4 838.0,275.6 842.0,278.8 846.0,282.0 850.0,285.2 854.0,288.3 858.0,291.5 862.0,294.7 866.0,297.9 870.0,301.1 874.0,304.3 878.0,307.5 882.0,310.7 886.0,313.8 890.0,317.0 894.0,320.2 898.0,323.4 900.0,325.0 900.0,326.2 898.0,324.6 894.0,321.4 890.0,318.2 886.0,315.0 882.0,311.8 878.0,308.6 874.0,305.5 870.0,302.3 866.0,299.1 862.0,295.9 858.0,292.8 854.0,289.6 850.0,286.5 846.0,283.4 842.0,280.2 838.0,277.1 834.0,274.0 830.0,270.9 826.0,267.8 822.0,264.8 818.0,261.7 814.0,258.7 810.0,255.6 806.0,252.6 802.0,249.6 798.0,246.6 794.0,243.6 790.0,240.7 830.0,270.1" fill="#fff"/>
<polygon points="208.0,145.6 340.0,144.2 400.0,143.0 457.0,140.8 500.0,138.6 540.0,136.0 560.0,150.0 540.0,166.0 500.0,162.0 457.0,157.6 400.0,153.6 340.0,154.0 208.0,153.7" fill="#fff"/>
<polygon points="800.3,233.1 828.9,256.0 857.6,279.2 886.2,302.5 931.6,340.3 983.1,383.0 1034.7,425.2 1086.3,467.3 1137.9,509.6 1189.4,551.6 1235.9,589.2 1242.0,594.5 1242.0,597.0 1231.5,597.0 1189.4,563.3 1137.9,522.0 1086.3,480.9 1034.7,440.6 983.1,400.3 931.6,359.8 900.0,334.5 871.9,312.0 843.3,292.5 830.0,285.5 820.0,271.0" fill="#fff"/>
<line x1="732.4" y1="60.1" x2="697.9" y2="68.7" stroke="#fff" stroke-width="3.2" stroke-linecap="butt"/>
<polygon points="688.2,71.1 698.8,63.8 700.9,72.6" fill="#fff"/>
<line x1="738.4" y1="89.8" x2="698.5" y2="100.3" stroke="#fff" stroke-width="3.2" stroke-linecap="butt"/>
<line x1="739.8" y1="124.3" x2="704.0" y2="133.6" stroke="#fff" stroke-width="3.2" stroke-linecap="butt"/>
<line x1="568.1" y1="196.4" x2="628.0" y2="167.4" stroke="#fff" stroke-width="3.0" stroke-linecap="butt"/>
<line x1="658.3" y1="228.3" x2="692.4" y2="164.1" stroke="#fff" stroke-width="2.8" stroke-linecap="butt"/>
<line x1="671.4" y1="271.4" x2="706.5" y2="190.0" stroke="#fff" stroke-width="2.8" stroke-linecap="butt"/>
<line x1="684.4" y1="318.5" x2="722.3" y2="240.1" stroke="#fff" stroke-width="2.8" stroke-linecap="butt"/>
<polygon points="727.5,229.3 725.5,243.9 717.4,239.9" fill="#fff"/>
<path d="M208.7 829.0 L1333.8 836.9 L1329.8 1398.3 L205.9 1388.7 Z M214.7 834.0 L1326.6 843.7 L1322.9 1393.3 L210.9 1381.9 Z" fill="#fff" fill-rule="evenodd"/>
<line x1="210.0" y1="1019.0" x2="231.5" y2="1019.1" stroke="#fff" stroke-width="3.5" stroke-linecap="butt"/>
<line x1="210.0" y1="1109.8" x2="229.0" y2="1109.9" stroke="#fff" stroke-width="3.5" stroke-linecap="butt"/>
<line x1="210.0" y1="1201.7" x2="229.0" y2="1201.8" stroke="#fff" stroke-width="3.5" stroke-linecap="butt"/>
<line x1="210.0" y1="1293.1" x2="227.6" y2="1293.2" stroke="#fff" stroke-width="3.5" stroke-linecap="butt"/>
<line x1="398.4" y1="1362.3" x2="398.2" y2="1386.0" stroke="#fff" stroke-width="3.6" stroke-linecap="butt"/>
<line x1="675.5" y1="1364.4" x2="675.3" y2="1388.0" stroke="#fff" stroke-width="3.6" stroke-linecap="butt"/>
<line x1="954.3" y1="1366.1" x2="954.1" y2="1391.0" stroke="#fff" stroke-width="3.6" stroke-linecap="butt"/>
<line x1="1231.6" y1="1370.7" x2="1231.4" y2="1394.0" stroke="#fff" stroke-width="3.6" stroke-linecap="butt"/>
<polyline points="209.8,927.8 211.6,927.8 213.5,927.8 215.4,927.8 217.2,927.9 219.1,927.9 221.0,927.9 222.8,928.0 224.7,928.0 226.6,928.0 228.5,928.0 230.3,928.1 232.2,928.1 234.1,928.1 235.9,928.2 237.8,928.2 239.7,928.2 241.5,928.3 243.4,928.3 245.3,928.3 247.1,928.4 249.0,928.4 250.9,928.4 252.8,928.5 254.6,928.5 256.5,928.5 258.4,928.6 260.2,928.6 262.1,928.6 264.0,928.7 265.8,928.7 267.7,928.7 269.6,928.8 271.5,928.8 273.3,928.9 275.2,928.9 277.1,928.9 278.9,929.0 280.8,929.0 282.7,929.1 284.5,929.1 286.4,929.1 288.3,929.2 290.1,929.2 292.0,929.3 293.9,929.3 295.8,929.3 297.6,929.4 299.5,929.4 301.4,929.5 303.2,929.5 305.1,929.6 307.0,929.6 308.8,929.7 310.7,929.7 312.6,929.7 314.4,929.8 316.3,929.8 318.2,929.9 320.1,929.9 321.9,930.0 323.8,930.0 325.7,930.1 327.5,930.1 329.4,930.2 331.3,930.2 333.1,930.3 335.0,930.4 336.9,930.4 338.7,930.5 340.6,930.5 342.5,930.6 344.4,930.6 346.2,930.7 348.1,930.8 350.0,930.8 351.8,930.8 353.7,930.9 355.6,930.9 357.4,930.9 359.3,931.0 361.2,931.0 363.0,931.1 364.9,931.1 366.8,931.1 368.7,931.2 370.5,931.2 372.4,931.3 374.3,931.3 376.1,931.3 378.0,931.4 379.9,931.4 381.7,931.5 383.6,931.5 385.5,931.6 387.3,931.6 389.2,931.7 391.1,931.7 393.0,931.8 394.8,931.8 396.7,931.9 398.6,931.9 400.4,932.0 402.3,932.1 404.2,932.1 406.0,932.2 407.9,932.2 409.8,932.3 411.6,932.4 413.5,932.4 415.4,932.5 417.3,932.6 419.1,932.6 421.0,932.7 422.9,932.8 424.7,932.8 426.6,932.9 428.5,933.0 430.3,933.1 432.2,933.1 434.1,933.2 435.9,933.3 437.8,933.4 439.7,933.5 441.5,933.5 443.4,933.6 445.3,933.7 447.2,933.8 449.0,933.9 450.9,934.0 452.8,934.1 454.6,934.2 456.5,934.3 458.4,934.4 460.2,934.5 462.1,934.6 464.0,934.7 465.8,934.8 467.7,934.9 469.6,935.0 471.4,935.1 473.3,935.3 475.2,935.4 477.0,935.5 478.9,935.6 480.8,935.7 482.7,935.9 484.5,936.0 486.4,936.1 488.3,936.2 490.1,936.4 492.0,936.5 493.9,936.6 495.7,936.8 497.6,936.9 499.5,937.0 501.3,937.2 503.2,937.3 505.1,937.5 506.9,937.6 508.8,937.8 510.7,938.0 512.5,938.1 514.4,938.3 516.3,938.5 518.2,938.7 520.0,938.9 521.9,939.1 523.8,939.4 525.6,939.6 527.5,939.9 529.4,940.1 531.2,940.4 533.1,940.7 535.0,940.9 536.8,941.2 538.7,941.5 540.6,941.8 542.4,942.1 544.3,942.4 546.2,942.7 548.0,943.1 549.9,943.4 551.8,943.7 553.6,944.1 555.5,944.4 557.4,944.8 559.2,945.2 561.1,945.6 563.0,946.0 564.8,946.4 566.7,946.8 568.6,947.3 570.4,947.7 572.3,948.2 574.2,948.7 576.0,949.2 577.9,949.8 579.8,950.3 581.6,950.9 583.5,951.5 585.4,952.1 587.2,952.7 589.1,953.3 591.0,954.0 592.8,954.6 594.7,955.3 596.6,956.1 598.4,956.8 600.3,957.6 602.1,958.4 604.0,959.3 605.9,960.1 607.7,961.1 609.6,962.0 611.5,963.0 613.3,964.1 615.2,965.2 617.0,966.3 618.9,967.5 620.8,968.7 622.6,970.0 624.5,971.4 626.3,972.8 628.2,974.3 630.1,975.9 631.9,977.6 633.8,979.3 635.6,981.2 637.5,983.2 639.3,985.3 641.2,987.5 643.0,989.9 644.9,992.4 646.7,995.1 648.6,998.0 650.4,1001.1 652.3,1004.5 654.1,1008.0 656.0,1011.9 657.8,1016.1 659.6,1020.5 661.5,1025.4 663.3,1030.6 665.1,1036.3 667.0,1042.4 668.8,1048.9 670.6,1055.8 672.4,1063.2 674.2,1071.1 676.0,1079.3 677.8,1087.8 679.6,1096.7 681.5,1105.7 683.3,1114.7 685.1,1123.6 686.9,1132.3 688.7,1140.8 690.5,1149.1 692.3,1156.9 694.1,1164.3 695.9,1171.3 697.7,1177.9 699.6,1184.0 701.4,1189.7 703.2,1194.9 705.0,1199.8 706.9,1204.3 708.7,1208.5 710.5,1212.3 712.4,1215.9 714.2,1219.2 716.1,1222.2 717.9,1225.1 719.8,1227.7 721.6,1230.3 723.5,1232.6 725.3,1234.9 727.2,1237.0 729.0,1238.9 730.9,1240.8 732.8,1242.5 734.6,1244.2 736.5,1245.7 738.3,1247.2 740.2,1248.5 742.0,1249.9 743.9,1251.1 745.8,1252.3 747.6,1253.4 749.5,1254.5 751.3,1255.5 753.2,1256.5 755.1,1257.4 756.9,1258.3 758.8,1259.1 760.7,1260.0 762.5,1260.9 764.4,1261.7 766.3,1262.6 768.1,1263.4 770.0,1264.2 771.8,1265.0 773.7,1265.7 775.6,1266.4 777.4,1267.1 779.3,1267.8 781.2,1268.5 783.0,1269.1 784.9,1269.7 786.8,1270.3 788.6,1270.9 790.5,1271.5 792.4,1272.0 794.2,1272.6 796.1,1273.1 798.0,1273.6 799.8,1274.2 801.7,1274.6 803.6,1275.1 805.4,1275.6 807.3,1276.1 809.2,1276.5 811.0,1277.0 812.9,1277.4 814.8,1277.8 816.6,1278.3 818.5,1278.7 820.4,1279.1 822.2,1279.5 824.1,1279.9 826.0,1280.3 827.8,1280.6 829.7,1281.0 831.6,1281.4 833.4,1281.7 835.3,1282.1 837.2,1282.4 839.0,1282.8 840.9,1283.1 842.8,1283.4 844.6,1283.7 846.5,1284.1 848.4,1284.4 850.2,1284.7 852.1,1284.9 854.0,1285.1 855.9,1285.3 857.7,1285.6 859.6,1285.8 861.5,1286.0 863.3,1286.2 865.2,1286.4 867.1,1286.6 868.9,1286.7 870.8,1286.9 872.7,1287.1 874.5,1287.3 876.4,1287.5 878.3,1287.6 880.1,1287.8 882.0,1288.0 883.9,1288.1 885.7,1288.3 887.6,1288.5 889.5,1288.6 891.4,1288.8 893.2,1288.9 895.1,1289.1 897.0,1289.2 898.8,1289.4 900.7,1289.5 902.6,1289.6 904.4,1289.8 906.3,1289.9 908.2,1290.0 910.0,1290.2 911.9,1290.3 913.8,1290.4 915.6,1290.6 917.5,1290.7 919.4,1290.8 921.2,1290.9 923.1,1291.0 925.0,1291.1 926.9,1291.3 928.7,1291.4 930.6,1291.5 932.5,1291.6 934.3,1291.7 936.2,1291.8 938.1,1291.9 939.9,1292.0 941.8,1292.1 943.7,1292.2 945.5,1292.3 947.4,1292.4 949.3,1292.5 951.2,1292.6 953.0,1292.7 954.9,1292.8 956.8,1292.9 958.6,1293.0 960.5,1293.0 962.4,1293.1 964.2,1293.2 966.1,1293.3 968.0,1293.4 969.8,1293.5 971.7,1293.6 973.6,1293.6 975.4,1293.7 977.3,1293.8 979.2,1293.9 981.1,1293.9 982.9,1294.0 984.8,1294.1 986.7,1294.2 988.5,1294.2 990.4,1294.3 992.3,1294.4 994.1,1294.4 996.0,1294.5 997.9,1294.6 999.7,1294.6 1001.6,1294.7 1003.5,1294.8 1005.4,1294.8 1007.2,1294.9 1009.1,1295.0 1011.0,1295.0 1012.8,1295.1 1014.7,1295.2 1016.6,1295.2 1018.4,1295.3 1020.3,1295.3 1022.2,1295.4 1024.0,1295.4 1025.9,1295.5 1027.8,1295.6 1029.7,1295.6 1031.5,1295.7 1033.4,1295.7 1035.3,1295.8 1037.1,1295.8 1039.0,1295.9 1040.9,1295.9 1042.7,1296.0 1044.6,1296.0 1046.5,1296.1 1048.3,1296.1 1050.2,1296.2 1052.1,1296.2 1054.0,1296.3 1055.8,1296.3 1057.7,1296.4 1059.6,1296.4 1061.4,1296.5 1063.3,1296.5 1065.2,1296.5 1067.0,1296.6 1068.9,1296.6 1070.8,1296.7 1072.6,1296.7 1074.5,1296.8 1076.4,1296.8 1078.3,1296.8 1080.1,1296.9 1082.0,1296.9 1083.9,1297.0 1085.7,1297.0 1087.6,1297.0 1089.5,1297.1 1091.3,1297.1 1093.2,1297.2 1095.1,1297.2 1096.9,1297.2 1098.8,1297.3 1100.7,1297.3 1102.6,1297.3 1104.4,1297.4 1106.3,1297.4 1108.2,1297.4 1110.0,1297.5 1111.9,1297.5 1113.8,1297.5 1115.6,1297.6 1117.5,1297.6 1119.4,1297.6 1121.3,1297.7 1123.1,1297.7 1125.0,1297.7 1126.9,1297.8 1128.7,1297.8 1130.6,1297.8 1132.5,1297.9 1134.3,1297.9 1136.2,1297.9 1138.1,1298.0 1139.9,1298.0 1141.8,1298.0 1143.7,1298.1 1145.6,1298.1 1147.4,1298.1 1149.3,1298.1 1151.2,1298.2 1153.0,1298.2 1154.9,1298.2 1156.8,1298.3 1158.6,1298.3 1160.5,1298.3 1162.4,1298.3 1164.2,1298.4 1166.1,1298.4 1168.0,1298.4 1169.9,1298.4 1171.7,1298.5 1173.6,1298.5 1175.5,1298.5 1177.3,1298.6 1179.2,1298.6 1181.1,1298.6 1182.9,1298.6 1184.8,1298.7 1186.7,1298.7 1188.6,1298.7 1190.4,1298.7 1192.3,1298.8 1194.2,1298.8 1196.0,1298.8 1197.9,1298.8 1199.8,1298.9 1201.6,1298.9 1203.5,1298.9 1205.4,1298.9 1207.2,1298.9 1209.1,1299.0 1211.0,1299.0 1212.9,1299.0 1214.7,1299.0 1216.6,1299.1 1218.5,1299.1 1220.3,1299.1 1222.2,1299.1 1224.1,1299.1 1225.9,1299.2 1227.8,1299.2 1229.7,1299.2 1231.6,1299.2 1233.4,1299.3 1235.3,1299.3 1237.2,1299.3 1239.0,1299.3 1240.9,1299.3 1242.8,1299.4 1244.6,1299.4 1246.5,1299.4 1248.4,1299.4 1250.2,1299.4 1252.1,1299.5 1254.0,1299.5 1255.9,1299.5 1257.7,1299.5 1259.6,1299.5 1261.5,1299.6 1263.3,1299.6 1265.2,1299.6 1267.1,1299.6 1268.9,1299.6 1270.8,1299.7 1272.7,1299.7 1274.5,1299.7 1276.4,1299.7 1278.3,1299.7 1280.2,1299.8 1282.0,1299.8 1283.9,1299.8 1285.8,1299.8 1287.6,1299.8 1289.5,1299.9 1291.4,1299.9 1293.2,1299.9 1295.1,1299.9 1297.0,1299.9 1298.9,1299.9 1300.7,1300.0 1302.6,1300.0 1304.5,1300.0 1306.3,1300.0 1308.2,1300.0 1310.1,1300.1 1311.9,1300.1 1313.8,1300.1 1315.7,1300.1 1317.5,1300.1 1319.4,1300.1 1321.3,1300.2 1323.2,1300.2 1325.0,1300.2 1326.9,1300.2 1328.8,1300.2" fill="none" stroke="#fff" stroke-width="4.6" stroke-linejoin="round" stroke-linecap="butt"/>
<polyline points="209.8,927.7 211.6,927.7 213.5,927.7 215.4,927.8 217.2,927.8 219.1,927.8 221.0,927.9 222.8,927.9 224.7,927.9 226.6,928.0 228.4,928.0 230.3,928.0 232.2,928.1 234.1,928.1 235.9,928.1 237.8,928.2 239.7,928.2 241.5,928.2 243.4,928.3 245.3,928.3 247.1,928.4 249.0,928.4 250.9,928.4 252.7,928.5 254.6,928.5 256.5,928.6 258.4,928.6 260.2,928.6 262.1,928.7 264.0,928.7 265.8,928.8 267.7,928.8 269.6,928.9 271.4,928.9 273.3,929.0 275.2,929.0 277.0,929.1 278.9,929.1 280.8,929.2 282.7,929.2 284.5,929.3 286.4,929.3 288.3,929.4 290.1,929.4 292.0,929.5 293.9,929.5 295.7,929.6 297.6,929.7 299.5,929.7 301.3,929.8 303.2,929.8 305.1,929.9 307.0,930.0 308.8,930.0 310.7,930.1 312.6,930.2 314.4,930.2 316.3,930.3 318.2,930.4 320.0,930.4 321.9,930.5 323.8,930.6 325.6,930.7 327.5,930.7 329.4,930.8 331.3,930.9 333.1,931.0 335.0,931.0 336.9,931.1 338.7,931.2 340.6,931.3 342.5,931.4 344.3,931.5 346.2,931.5 348.1,931.6 349.9,931.7 351.8,931.8 353.7,931.8 355.5,931.9 357.4,931.9 359.3,932.0 361.2,932.1 363.0,932.1 364.9,932.2 366.8,932.2 368.6,932.3 370.5,932.4 372.4,932.5 374.2,932.5 376.1,932.6 378.0,932.7 379.8,932.7 381.7,932.8 383.6,932.9 385.4,933.0 387.3,933.1 389.2,933.2 391.1,933.2 392.9,933.3 394.8,933.4 396.7,933.5 398.5,933.6 400.4,933.7 402.3,933.8 404.1,933.9 406.0,934.0 407.9,934.1 409.7,934.3 411.6,934.4 413.5,934.5 415.3,934.6 417.2,934.7 419.1,934.8 420.9,935.0 422.8,935.1 424.7,935.2 426.6,935.3 428.4,935.5 430.3,935.6 432.2,935.7 434.0,935.9 435.9,936.0 437.8,936.2 439.6,936.3 441.5,936.5 443.4,936.6 445.2,936.8 447.1,936.9 449.0,937.1 450.8,937.3 452.7,937.4 454.6,937.6 456.4,937.8 458.3,938.0 460.2,938.2 462.0,938.4 463.9,938.6 465.8,938.8 467.6,939.0 469.5,939.2 471.4,939.4 473.3,939.6 475.1,939.8 477.0,940.1 478.9,940.3 480.7,940.5 482.6,940.6 484.5,940.8 486.3,940.9 488.2,941.1 490.1,941.2 491.9,941.4 493.8,941.6 495.7,941.7 497.5,941.9 499.4,942.1 501.3,942.3 503.1,942.5 505.0,942.7 506.9,942.9 508.7,943.2 510.6,943.4 512.5,943.6 514.3,943.9 516.2,944.1 518.1,944.4 519.9,944.7 521.8,945.2 523.7,945.7 525.5,946.2 527.4,946.8 529.3,947.3 531.1,947.9 533.0,948.5 534.9,949.0 536.7,949.6 538.6,950.2 540.5,950.8 542.3,951.5 544.2,952.1 546.0,952.8 547.9,953.4 549.8,954.1 551.6,954.8 553.5,955.5 555.4,956.2 557.2,957.0 559.1,957.7 561.0,958.5 562.8,959.3 564.7,960.1 566.6,960.9 568.4,961.9 570.3,962.9 572.1,963.9 574.0,964.9 575.9,966.0 577.7,967.1 579.6,968.2 581.5,969.3 583.3,970.4 585.2,971.6 587.1,972.8 588.9,974.0 590.8,975.3 592.6,976.6 594.5,977.9 596.4,979.3 598.2,980.7 600.1,982.1 601.9,983.3 603.8,984.6 605.7,986.0 607.5,987.4 609.4,988.8 611.2,990.3 613.1,991.8 615.0,993.4 616.8,995.0 618.7,996.7 620.5,998.4 622.4,1000.3 624.2,1002.1 626.1,1004.1 627.9,1006.1 629.8,1008.2 631.6,1010.4 633.5,1012.8 635.4,1015.3 637.2,1017.8 639.1,1020.4 640.9,1023.2 642.8,1026.0 644.6,1028.9 646.5,1031.9 648.3,1035.0 650.1,1038.2 652.0,1041.5 653.8,1045.0 655.7,1048.5 657.5,1052.1 659.4,1055.9 661.2,1059.8 663.0,1063.9 664.9,1068.1 666.7,1072.4 668.6,1076.8 670.4,1081.2 672.2,1085.7 674.1,1090.3 675.9,1095.0 677.8,1099.7 679.6,1104.4 681.4,1109.2 683.3,1113.9 685.1,1118.3 686.9,1122.7 688.8,1127.1 690.6,1131.4 692.4,1135.7 694.3,1139.9 696.1,1144.1 698.0,1148.2 699.8,1152.2 701.6,1156.1 703.5,1159.9 705.3,1163.6 707.2,1167.2 709.0,1170.7 710.8,1174.1 712.7,1177.4 714.5,1180.5 716.4,1183.6 718.2,1186.6 720.1,1189.4 721.9,1192.2 723.8,1194.9 725.6,1197.4 727.5,1199.9 729.3,1202.3 731.2,1204.6 733.0,1206.8 734.9,1209.0 736.7,1211.0 738.6,1213.0 740.4,1214.9 742.3,1216.8 744.1,1218.5 746.0,1220.3 747.9,1221.9 749.7,1223.5 751.6,1225.0 753.4,1226.5 755.3,1228.0 757.2,1229.3 759.0,1230.7 760.9,1232.1 762.7,1233.5 764.6,1235.0 766.4,1236.3 768.3,1237.7 770.2,1239.0 772.0,1240.3 773.9,1241.5 775.8,1242.7 777.6,1243.9 779.5,1245.1 781.3,1246.2 783.2,1247.3 785.1,1248.4 786.9,1249.4 788.8,1250.4 790.7,1251.4 792.5,1252.4 794.4,1253.3 796.2,1254.3 798.1,1255.2 800.0,1256.1 801.8,1257.0 803.7,1257.8 805.6,1258.7 807.4,1259.5 809.3,1260.3 811.2,1261.1 813.0,1261.8 814.9,1262.6 816.8,1263.4 818.6,1264.1 820.5,1264.8 822.3,1265.5 824.2,1266.2 826.1,1266.9 827.9,1267.6 829.8,1268.2 831.7,1268.9 833.5,1269.5 835.4,1270.1 837.3,1270.7 839.1,1271.3 841.0,1271.9 842.9,1272.5 844.7,1273.1 846.6,1273.7 848.5,1274.2 850.3,1274.8 852.2,1275.1 854.1,1275.5 855.9,1275.9 857.8,1276.2 859.7,1276.6 861.5,1276.9 863.4,1277.3 865.3,1277.6 867.1,1277.9 869.0,1278.3 870.9,1278.6 872.7,1278.9 874.6,1279.2 876.5,1279.5 878.3,1279.8 880.2,1280.0 882.1,1280.3 883.9,1280.6 885.8,1280.9 887.7,1281.1 889.5,1281.4 891.4,1281.6 893.3,1281.9 895.1,1282.1 897.0,1282.3 898.9,1282.6 900.8,1282.8 902.6,1283.0 904.5,1283.3 906.4,1283.5 908.2,1283.7 910.1,1283.9 912.0,1284.1 913.8,1284.3 915.7,1284.5 917.6,1284.7 919.4,1284.9 921.3,1285.0 923.2,1285.2 925.0,1285.4 926.9,1285.6 928.8,1285.8 930.6,1285.9 932.5,1286.1 934.4,1286.2 936.2,1286.4 938.1,1286.6 940.0,1286.7 941.8,1286.9 943.7,1287.0 945.6,1287.2 947.5,1287.3 949.3,1287.4 951.2,1287.6 953.1,1287.8 954.9,1287.9 956.8,1288.1 958.7,1288.3 960.5,1288.4 962.4,1288.6 964.3,1288.7 966.1,1288.9 968.0,1289.0 969.9,1289.2 971.7,1289.3 973.6,1289.5 975.5,1289.6 977.3,1289.8 979.2,1289.9 981.1,1290.1 983.0,1290.2 984.8,1290.3 986.7,1290.5 988.6,1290.6 990.4,1290.7 992.3,1290.8 994.2,1291.0 996.0,1291.1 997.9,1291.2 999.8,1291.3 1001.6,1291.4 1003.5,1291.6 1005.4,1291.7 1007.2,1291.8 1009.1,1291.9 1011.0,1292.0 1012.9,1292.1 1014.7,1292.2 1016.6,1292.3 1018.5,1292.4 1020.3,1292.5 1022.2,1292.6 1024.1,1292.7 1025.9,1292.8 1027.8,1292.9 1029.7,1293.0 1031.5,1293.1 1033.4,1293.2 1035.3,1293.3 1037.1,1293.4 1039.0,1293.5 1040.9,1293.6 1042.8,1293.7 1044.6,1293.7 1046.5,1293.8 1048.4,1293.9 1050.2,1294.0 1052.1,1294.1 1054.0,1294.2 1055.8,1294.2 1057.7,1294.3 1059.6,1294.4 1061.4,1294.5 1063.3,1294.5 1065.2,1294.6 1067.1,1294.7 1068.9,1294.8 1070.8,1294.8 1072.7,1294.9 1074.5,1295.0 1076.4,1295.0 1078.3,1295.1 1080.1,1295.2 1082.0,1295.2 1083.9,1295.3 1085.7,1295.4 1087.6,1295.4 1089.5,1295.5 1091.4,1295.6 1093.2,1295.6 1095.1,1295.7 1097.0,1295.7 1098.8,1295.8 1100.7,1295.9 1102.6,1295.9 1104.4,1296.0 1106.3,1296.0 1108.2,1296.1 1110.0,1296.2 1111.9,1296.2 1113.8,1296.3 1115.7,1296.3 1117.5,1296.4 1119.4,1296.4 1121.3,1296.5 1123.1,1296.5 1125.0,1296.6 1126.9,1296.6 1128.7,1296.7 1130.6,1296.7 1132.5,1296.8 1134.3,1296.8 1136.2,1296.9 1138.1,1296.9 1140.0,1297.0 1141.8,1297.0 1143.7,1297.1 1145.6,1297.1 1147.4,1297.1 1149.3,1297.2 1151.2,1297.2 1153.0,1297.3 1154.9,1297.3 1156.8,1297.4 1158.6,1297.4 1160.5,1297.4 1162.4,1297.5 1164.3,1297.5 1166.1,1297.6 1168.0,1297.6 1169.9,1297.6 1171.7,1297.7 1173.6,1297.7 1175.5,1297.8 1177.3,1297.8 1179.2,1297.8 1181.1,1297.9 1182.9,1297.9 1184.8,1297.9 1186.7,1298.0 1188.6,1298.0 1190.4,1298.0 1192.3,1298.1 1194.2,1298.1 1196.0,1298.2 1197.9,1298.2 1199.8,1298.2 1201.6,1298.3 1203.5,1298.3 1205.4,1298.3 1207.3,1298.4 1209.1,1298.4 1211.0,1298.4 1212.9,1298.4 1214.7,1298.5 1216.6,1298.5 1218.5,1298.5 1220.3,1298.6 1222.2,1298.6 1224.1,1298.6 1225.9,1298.7 1227.8,1298.7 1229.7,1298.7 1231.6,1298.8 1233.4,1298.8 1235.3,1298.8 1237.2,1298.8 1239.0,1298.9 1240.9,1298.9 1242.8,1298.9 1244.6,1298.9 1246.5,1299.0 1248.4,1299.0 1250.2,1299.0 1252.1,1299.1 1254.0,1299.1 1255.9,1299.1 1257.7,1299.1 1259.6,1299.2 1261.5,1299.2 1263.3,1299.2 1265.2,1299.2 1267.1,1299.3 1268.9,1299.3 1270.8,1299.3 1272.7,1299.3 1274.6,1299.4 1276.4,1299.4 1278.3,1299.4 1280.2,1299.4 1282.0,1299.5 1283.9,1299.5 1285.8,1299.5 1287.6,1299.5 1289.5,1299.6 1291.4,1299.6 1293.2,1299.6 1295.1,1299.6 1297.0,1299.6 1298.9,1299.7 1300.7,1299.7 1302.6,1299.7 1304.5,1299.7 1306.3,1299.8 1308.2,1299.8 1310.1,1299.8 1311.9,1299.8 1313.8,1299.8 1315.7,1299.9 1317.6,1299.9 1319.4,1299.9 1321.3,1299.9 1323.2,1300.0 1325.0,1300.0 1326.9,1300.0 1328.8,1300.0" fill="none" stroke="#fff" stroke-width="4.6" stroke-linejoin="round" stroke-linecap="butt"/>
<polyline points="209.7,928.0 211.6,928.1 213.5,928.1 215.4,928.2 217.2,928.3 219.1,928.3 221.0,928.4 222.8,928.4 224.7,928.5 226.6,928.5 228.4,928.6 230.3,928.7 232.2,928.7 234.0,928.8 235.9,928.8 237.8,928.9 239.6,929.0 241.5,929.0 243.4,929.1 245.3,929.2 247.1,929.2 249.0,929.3 250.9,929.4 252.7,929.4 254.6,929.5 256.5,929.6 258.3,929.6 260.2,929.7 262.1,929.8 263.9,929.9 265.8,929.9 267.7,930.0 269.6,930.1 271.4,930.2 273.3,930.3 275.2,930.4 277.0,930.4 278.9,930.5 280.8,930.6 282.6,930.7 284.5,930.8 286.4,930.9 288.2,931.0 290.1,931.1 292.0,931.2 293.8,931.3 295.7,931.4 297.6,931.5 299.5,931.6 301.3,931.7 303.2,931.8 305.1,931.9 306.9,932.0 308.8,932.1 310.7,932.2 312.5,932.3 314.4,932.5 316.3,932.6 318.1,932.7 320.0,932.8 321.9,933.0 323.7,933.1 325.6,933.2 327.5,933.3 329.4,933.5 331.2,933.6 333.1,933.7 335.0,933.9 336.8,934.0 338.7,934.2 340.6,934.3 342.4,934.5 344.3,934.6 346.2,934.8 348.0,934.9 349.9,935.1 351.8,935.2 353.6,935.3 355.5,935.4 357.4,935.6 359.2,935.7 361.1,935.8 363.0,936.0 364.9,936.1 366.7,936.2 368.6,936.4 370.5,936.5 372.3,936.7 374.2,936.8 376.1,937.0 377.9,937.2 379.8,937.3 381.7,937.5 383.5,937.7 385.4,937.8 387.3,938.0 389.1,938.2 391.0,938.4 392.9,938.5 394.7,938.7 396.6,938.9 398.5,939.1 400.3,939.3 402.2,939.5 404.1,939.7 405.9,940.0 407.8,940.2 409.7,940.4 411.6,940.6 413.4,940.8 415.3,941.1 417.2,941.3 419.0,941.6 420.9,941.8 422.8,941.9 424.6,942.1 426.5,942.3 428.4,942.4 430.2,942.6 432.1,942.8 434.0,943.0 435.8,943.2 437.7,943.4 439.6,943.6 441.4,943.8 443.3,944.1 445.2,944.3 447.0,944.5 448.9,944.7 450.8,945.0 452.6,945.2 454.5,945.5 456.4,945.8 458.2,946.0 460.1,946.3 462.0,946.6 463.8,946.9 465.7,947.2 467.6,947.5 469.4,947.8 471.3,948.1 473.2,948.4 475.0,948.7 476.9,949.1 478.8,949.4 480.6,949.8 482.5,950.2 484.4,950.6 486.2,951.0 488.1,951.4 490.0,951.9 491.8,952.3 493.7,952.8 495.6,953.2 497.4,953.7 499.3,954.2 501.1,954.7 503.0,955.2 504.9,955.7 506.7,956.2 508.6,956.8 510.5,957.3 512.3,957.9 514.2,958.4 516.1,959.0 517.9,959.6 519.8,960.2 521.7,960.9 523.5,961.6 525.4,962.4 527.3,963.2 529.1,963.9 531.0,964.7 532.8,965.6 534.7,966.4 536.6,967.2 538.4,968.1 540.3,968.9 542.2,969.8 544.0,970.7 545.9,971.6 547.7,972.5 549.6,973.5 551.5,974.4 553.3,975.4 555.2,976.4 557.1,977.4 558.9,978.4 560.8,979.5 562.6,980.5 564.5,981.6 566.4,982.7 568.2,983.9 570.1,985.1 572.0,986.3 573.8,987.6 575.7,988.8 577.5,990.1 579.4,991.4 581.3,992.7 583.1,994.1 585.0,995.4 586.8,996.8 588.7,998.2 590.6,999.7 592.4,1001.1 594.3,1002.6 596.1,1004.2 598.0,1005.7 599.9,1007.3 601.7,1008.7 603.6,1010.2 605.4,1011.6 607.3,1013.2 609.1,1014.7 611.0,1016.3 612.9,1017.9 614.7,1019.5 616.6,1021.1 618.4,1022.8 620.3,1024.6 622.1,1026.3 624.0,1028.1 625.8,1029.9 627.7,1031.7 629.6,1033.6 631.4,1035.8 633.3,1038.2 635.1,1040.6 637.0,1043.0 638.8,1045.5 640.7,1048.0 642.5,1050.5 644.4,1053.0 646.2,1055.6 648.1,1058.2 649.9,1060.8 651.8,1063.5 653.6,1066.2 655.5,1068.9 657.4,1071.6 659.2,1074.3 661.1,1077.2 662.9,1080.2 664.8,1083.1 666.6,1086.1 668.5,1089.1 670.3,1092.2 672.2,1095.2 674.0,1098.2 675.9,1101.3 677.7,1104.4 679.6,1107.4 681.4,1110.5 683.3,1113.5 685.1,1116.1 687.0,1118.7 688.8,1121.3 690.7,1123.8 692.5,1126.4 694.4,1129.0 696.2,1131.5 698.1,1134.1 699.9,1136.6 701.8,1139.1 703.6,1141.6 705.5,1144.0 707.3,1146.5 709.2,1148.9 711.0,1151.3 712.9,1153.7 714.7,1156.0 716.6,1158.3 718.4,1160.6 720.3,1162.9 722.1,1165.0 724.0,1167.2 725.8,1169.3 727.7,1171.3 729.6,1173.3 731.4,1175.3 733.3,1177.3 735.1,1179.2 737.0,1181.1 738.8,1183.0 740.7,1184.8 742.5,1186.6 744.4,1188.4 746.2,1190.2 748.1,1191.9 750.0,1193.6 751.8,1195.2 753.7,1196.8 755.5,1198.4 757.4,1200.0 759.2,1201.5 761.1,1203.1 763.0,1204.7 764.8,1206.3 766.7,1207.9 768.5,1209.4 770.4,1210.9 772.3,1212.4 774.1,1213.8 776.0,1215.2 777.8,1216.6 779.7,1218.0 781.5,1219.3 783.4,1220.7 785.3,1222.0 787.1,1223.2 789.0,1224.5 790.9,1225.7 792.7,1227.0 794.6,1228.1 796.4,1229.3 798.3,1230.5 800.2,1231.6 802.0,1232.7 803.9,1233.8 805.7,1234.9 807.6,1235.9 809.5,1237.0 811.3,1238.0 813.2,1239.0 815.1,1240.0 816.9,1240.9 818.8,1241.9 820.6,1242.8 822.5,1243.7 824.4,1244.7 826.2,1245.5 828.1,1246.4 830.0,1247.3 831.8,1248.1 833.7,1249.0 835.6,1249.8 837.4,1250.6 839.3,1251.4 841.1,1252.2 843.0,1252.9 844.9,1253.7 846.7,1254.4 848.6,1255.2 850.5,1255.9 852.3,1256.5 854.2,1257.2 856.1,1257.9 857.9,1258.5 859.8,1259.1 861.7,1259.7 863.5,1260.3 865.4,1260.9 867.2,1261.5 869.1,1262.1 871.0,1262.7 872.8,1263.2 874.7,1263.8 876.6,1264.3 878.4,1264.8 880.3,1265.4 882.2,1265.9 884.0,1266.4 885.9,1266.9 887.8,1267.4 889.6,1267.8 891.5,1268.3 893.4,1268.8 895.2,1269.2 897.1,1269.7 899.0,1270.1 900.8,1270.6 902.7,1271.0 904.6,1271.4 906.4,1271.9 908.3,1272.3 910.2,1272.7 912.0,1273.1 913.9,1273.5 915.8,1273.9 917.6,1274.2 919.5,1274.6 921.4,1275.0 923.2,1275.3 925.1,1275.7 927.0,1276.0 928.8,1276.4 930.7,1276.7 932.6,1277.1 934.4,1277.4 936.3,1277.7 938.2,1278.1 940.0,1278.4 941.9,1278.7 943.8,1279.0 945.6,1279.3 947.5,1279.6 949.4,1279.9 951.2,1280.2 953.1,1280.5 955.0,1280.7 956.8,1281.0 958.7,1281.3 960.6,1281.6 962.4,1281.8 964.3,1282.1 966.2,1282.3 968.1,1282.6 969.9,1282.8 971.8,1283.1 973.7,1283.3 975.5,1283.6 977.4,1283.8 979.3,1284.0 981.1,1284.3 983.0,1284.5 984.9,1284.7 986.7,1284.9 988.6,1285.1 990.5,1285.3 992.3,1285.5 994.2,1285.8 996.1,1286.0 997.9,1286.2 999.8,1286.4 1001.7,1286.5 1003.5,1286.7 1005.4,1286.9 1007.3,1287.1 1009.2,1287.3 1011.0,1287.5 1012.9,1287.6 1014.8,1287.8 1016.6,1288.0 1018.5,1288.2 1020.4,1288.3 1022.2,1288.5 1024.1,1288.7 1026.0,1288.8 1027.8,1289.0 1029.7,1289.1 1031.6,1289.3 1033.4,1289.4 1035.3,1289.6 1037.2,1289.7 1039.0,1289.9 1040.9,1290.0 1042.8,1290.2 1044.7,1290.3 1046.5,1290.4 1048.4,1290.6 1050.3,1290.7 1052.1,1290.8 1054.0,1291.0 1055.9,1291.1 1057.7,1291.2 1059.6,1291.4 1061.5,1291.5 1063.3,1291.6 1065.2,1291.7 1067.1,1291.8 1068.9,1292.0 1070.8,1292.1 1072.7,1292.2 1074.6,1292.3 1076.4,1292.4 1078.3,1292.5 1080.2,1292.6 1082.0,1292.7 1083.9,1292.8 1085.8,1292.9 1087.6,1293.0 1089.5,1293.1 1091.4,1293.2 1093.2,1293.3 1095.1,1293.4 1097.0,1293.5 1098.8,1293.6 1100.7,1293.7 1102.6,1293.8 1104.5,1293.9 1106.3,1294.0 1108.2,1294.1 1110.1,1294.2 1111.9,1294.2 1113.8,1294.3 1115.7,1294.4 1117.5,1294.5 1119.4,1294.6 1121.3,1294.7 1123.1,1294.7 1125.0,1294.8 1126.9,1294.9 1128.8,1295.0 1130.6,1295.0 1132.5,1295.1 1134.4,1295.2 1136.2,1295.3 1138.1,1295.3 1140.0,1295.4 1141.8,1295.5 1143.7,1295.5 1145.6,1295.6 1147.4,1295.7 1149.3,1295.7 1151.2,1295.8 1153.0,1295.9 1154.9,1295.9 1156.8,1296.0 1158.7,1296.1 1160.5,1296.1 1162.4,1296.2 1164.3,1296.3 1166.1,1296.3 1168.0,1296.4 1169.9,1296.4 1171.7,1296.5 1173.6,1296.5 1175.5,1296.6 1177.3,1296.7 1179.2,1296.7 1181.1,1296.8 1183.0,1296.8 1184.8,1296.9 1186.7,1296.9 1188.6,1297.0 1190.4,1297.0 1192.3,1297.1 1194.2,1297.1 1196.0,1297.2 1197.9,1297.2 1199.8,1297.3 1201.7,1297.3 1203.5,1297.4 1205.4,1297.4 1207.3,1297.5 1209.1,1297.5 1211.0,1297.6 1212.9,1297.6 1214.7,1297.6 1216.6,1297.7 1218.5,1297.7 1220.3,1297.8 1222.2,1297.8 1224.1,1297.9 1226.0,1297.9 1227.8,1297.9 1229.7,1298.0 1231.6,1298.0 1233.4,1298.1 1235.3,1298.1 1237.2,1298.1 1239.0,1298.2 1240.9,1298.2 1242.8,1298.3 1244.6,1298.3 1246.5,1298.3 1248.4,1298.4 1250.3,1298.4 1252.1,1298.4 1254.0,1298.5 1255.9,1298.5 1257.7,1298.6 1259.6,1298.6 1261.5,1298.6 1263.3,1298.7 1265.2,1298.7 1267.1,1298.7 1268.9,1298.8 1270.8,1298.8 1272.7,1298.8 1274.6,1298.9 1276.4,1298.9 1278.3,1298.9 1280.2,1299.0 1282.0,1299.0 1283.9,1299.0 1285.8,1299.0 1287.6,1299.1 1289.5,1299.1 1291.4,1299.1 1293.2,1299.2 1295.1,1299.2 1297.0,1299.2 1298.9,1299.3 1300.7,1299.3 1302.6,1299.3 1304.5,1299.3 1306.3,1299.4 1308.2,1299.4 1310.1,1299.4 1311.9,1299.5 1313.8,1299.5 1315.7,1299.5 1317.6,1299.5 1319.4,1299.6 1321.3,1299.6 1323.2,1299.6 1325.0,1299.6 1326.9,1299.7 1328.8,1299.7" fill="none" stroke="#fff" stroke-width="4.6" stroke-linejoin="round" stroke-linecap="butt"/>
<polyline points="209.7,928.4 211.6,928.5 213.5,928.6 215.3,928.6 217.2,928.7 219.1,928.8 220.9,928.8 222.8,928.9 224.7,929.0 226.6,929.1 228.4,929.1 230.3,929.2 232.2,929.3 234.0,929.4 235.9,929.4 237.8,929.5 239.6,929.6 241.5,929.7 243.4,929.8 245.2,929.9 247.1,930.0 249.0,930.0 250.8,930.1 252.7,930.2 254.6,930.3 256.5,930.4 258.3,930.5 260.2,930.6 262.1,930.7 263.9,930.8 265.8,930.9 267.7,931.0 269.5,931.1 271.4,931.2 273.3,931.4 275.1,931.5 277.0,931.6 278.9,931.7 280.7,931.8 282.6,931.9 284.5,932.1 286.4,932.2 288.2,932.3 290.1,932.4 292.0,932.6 293.8,932.7 295.7,932.8 297.6,933.0 299.4,933.1 301.3,933.3 303.2,933.4 305.0,933.6 306.9,933.7 308.8,933.9 310.6,934.0 312.5,934.2 314.4,934.3 316.3,934.5 318.1,934.7 320.0,934.8 321.9,935.0 323.7,935.2 325.6,935.3 327.5,935.5 329.3,935.7 331.2,935.9 333.1,936.1 334.9,936.3 336.8,936.5 338.7,936.6 340.5,936.8 342.4,937.0 344.3,937.3 346.1,937.5 348.0,937.7 349.9,937.9 351.7,938.1 353.6,938.3 355.5,938.4 357.3,938.6 359.2,938.8 361.1,939.0 363.0,939.2 364.8,939.4 366.7,939.6 368.6,939.8 370.4,940.1 372.3,940.3 374.2,940.5 376.0,940.7 377.9,941.0 379.8,941.2 381.6,941.4 383.5,941.7 385.4,941.9 387.2,942.2 389.1,942.5 391.0,942.7 392.8,943.0 394.7,943.3 396.6,943.5 398.4,943.8 400.3,944.1 402.2,944.4 404.0,944.7 405.9,945.0 407.8,945.3 409.6,945.6 411.5,946.0 413.4,946.3 415.2,946.6 417.1,947.0 419.0,947.3 420.8,947.7 422.7,948.1 424.6,948.6 426.4,949.0 428.3,949.5 430.2,949.9 432.0,950.4 433.9,950.9 435.8,951.3 437.6,951.8 439.5,952.3 441.4,952.8 443.2,953.3 445.1,953.8 447.0,954.4 448.8,954.9 450.7,955.4 452.6,956.0 454.4,956.5 456.3,957.1 458.2,957.6 460.0,958.2 461.9,958.8 463.7,959.4 465.6,960.0 467.5,960.6 469.3,961.2 471.2,961.8 473.1,962.5 474.9,963.1 476.8,963.8 478.7,964.4 480.5,965.1 482.4,965.7 484.3,966.3 486.1,967.0 488.0,967.7 489.9,968.3 491.7,969.0 493.6,969.7 495.5,970.4 497.3,971.1 499.2,971.8 501.0,972.6 502.9,973.3 504.8,974.1 506.6,974.8 508.5,975.6 510.4,976.4 512.2,977.2 514.1,978.0 516.0,978.8 517.8,979.6 519.7,980.5 521.5,981.3 523.4,982.0 525.3,982.8 527.1,983.6 529.0,984.4 530.9,985.3 532.7,986.1 534.6,986.9 536.4,987.8 538.3,988.7 540.2,989.6 542.0,990.5 543.9,991.4 545.8,992.3 547.6,993.3 549.5,994.2 551.3,995.2 553.2,996.2 555.1,997.2 556.9,998.2 558.8,999.2 560.6,1000.2 562.5,1001.3 564.4,1002.3 566.2,1003.4 568.1,1004.7 569.9,1005.9 571.8,1007.2 573.7,1008.5 575.5,1009.8 577.4,1011.1 579.2,1012.4 581.1,1013.8 583.0,1015.1 584.8,1016.5 586.7,1017.9 588.5,1019.3 590.4,1020.7 592.3,1022.1 594.1,1023.6 596.0,1025.0 597.8,1026.5 599.7,1028.0 601.6,1029.4 603.4,1030.8 605.3,1032.2 607.1,1033.7 609.0,1035.1 610.8,1036.6 612.7,1038.1 614.6,1039.6 616.4,1041.1 618.3,1042.6 620.1,1044.1 622.0,1045.6 623.9,1047.2 625.7,1048.8 627.6,1050.3 629.4,1051.9 631.3,1053.7 633.1,1055.7 635.0,1057.6 636.9,1059.6 638.7,1061.6 640.6,1063.5 642.4,1065.5 644.3,1067.5 646.1,1069.5 648.0,1071.5 649.9,1073.6 651.7,1075.6 653.6,1077.6 655.4,1079.7 657.3,1081.7 659.1,1083.8 661.0,1085.9 662.8,1088.2 664.7,1090.5 666.6,1092.8 668.4,1095.0 670.3,1097.3 672.1,1099.6 674.0,1101.9 675.8,1104.2 677.7,1106.5 679.6,1108.8 681.4,1111.1 683.3,1113.4 685.1,1115.3 687.0,1117.3 688.8,1119.3 690.7,1121.2 692.5,1123.2 694.4,1125.2 696.3,1127.1 698.1,1129.1 700.0,1131.0 701.8,1133.0 703.7,1134.9 705.5,1136.9 707.4,1138.8 709.2,1140.7 711.1,1142.6 713.0,1144.6 714.8,1146.5 716.7,1148.4 718.5,1150.3 720.4,1152.1 722.2,1153.9 724.1,1155.7 726.0,1157.4 727.8,1159.2 729.7,1160.9 731.5,1162.6 733.4,1164.4 735.2,1166.1 737.1,1167.8 739.0,1169.5 740.8,1171.1 742.7,1172.8 744.5,1174.5 746.4,1176.1 748.2,1177.7 750.1,1179.4 752.0,1181.0 753.8,1182.6 755.7,1184.1 757.5,1185.7 759.4,1187.3 761.3,1188.7 763.1,1190.1 765.0,1191.5 766.8,1192.9 768.7,1194.2 770.5,1195.6 772.4,1196.9 774.3,1198.2 776.1,1199.5 778.0,1200.8 779.8,1202.1 781.7,1203.4 783.6,1204.6 785.4,1205.9 787.3,1207.1 789.1,1208.3 791.0,1209.5 792.9,1210.7 794.7,1211.8 796.6,1213.0 798.4,1214.1 800.3,1215.2 802.2,1216.4 804.0,1217.5 805.9,1218.5 807.7,1219.6 809.6,1220.7 811.5,1221.7 813.3,1222.7 815.2,1223.7 817.1,1224.7 818.9,1225.7 820.8,1226.7 822.6,1227.7 824.5,1228.6 826.4,1229.6 828.2,1230.5 830.1,1231.4 832.0,1232.3 833.8,1233.2 835.7,1234.0 837.5,1234.9 839.4,1235.8 841.3,1236.6 843.1,1237.4 845.0,1238.2 846.9,1239.0 848.7,1239.8 850.6,1240.6 852.4,1241.5 854.3,1242.3 856.2,1243.1 858.0,1243.9 859.9,1244.7 861.8,1245.5 863.6,1246.3 865.5,1247.1 867.4,1247.8 869.2,1248.6 871.1,1249.3 872.9,1250.0 874.8,1250.8 876.7,1251.5 878.5,1252.2 880.4,1252.9 882.3,1253.5 884.1,1254.2 886.0,1254.9 887.9,1255.5 889.7,1256.2 891.6,1256.8 893.5,1257.4 895.3,1258.0 897.2,1258.6 899.1,1259.2 900.9,1259.8 902.8,1260.4 904.6,1261.0 906.5,1261.5 908.4,1262.1 910.2,1262.6 912.1,1263.2 914.0,1263.7 915.8,1264.2 917.7,1264.8 919.6,1265.3 921.4,1265.8 923.3,1266.3 925.2,1266.8 927.0,1267.2 928.9,1267.7 930.8,1268.2 932.6,1268.6 934.5,1269.1 936.4,1269.5 938.2,1270.0 940.1,1270.4 942.0,1270.8 943.8,1271.3 945.7,1271.7 947.6,1272.1 949.4,1272.5 951.3,1272.9 953.2,1273.3 955.0,1273.7 956.9,1274.0 958.8,1274.4 960.6,1274.8 962.5,1275.2 964.4,1275.5 966.2,1275.9 968.1,1276.2 970.0,1276.6 971.8,1276.9 973.7,1277.2 975.6,1277.6 977.4,1277.9 979.3,1278.2 981.2,1278.5 983.0,1278.8 984.9,1279.1 986.8,1279.4 988.6,1279.7 990.5,1280.0 992.4,1280.3 994.2,1280.6 996.1,1280.9 998.0,1281.2 999.8,1281.4 1001.7,1281.7 1003.6,1282.0 1005.4,1282.2 1007.3,1282.5 1009.2,1282.7 1011.1,1283.0 1012.9,1283.2 1014.8,1283.5 1016.7,1283.7 1018.5,1283.9 1020.4,1284.2 1022.3,1284.4 1024.1,1284.6 1026.0,1284.8 1027.9,1285.1 1029.7,1285.3 1031.6,1285.5 1033.5,1285.7 1035.3,1285.9 1037.2,1286.1 1039.1,1286.3 1040.9,1286.5 1042.8,1286.7 1044.7,1286.9 1046.5,1287.1 1048.4,1287.3 1050.3,1287.5 1052.1,1287.6 1054.0,1287.8 1055.9,1288.0 1057.8,1288.2 1059.6,1288.3 1061.5,1288.5 1063.4,1288.7 1065.2,1288.8 1067.1,1289.0 1069.0,1289.2 1070.8,1289.3 1072.7,1289.5 1074.6,1289.6 1076.4,1289.8 1078.3,1289.9 1080.2,1290.1 1082.0,1290.2 1083.9,1290.4 1085.8,1290.5 1087.7,1290.6 1089.5,1290.8 1091.4,1290.9 1093.3,1291.0 1095.1,1291.2 1097.0,1291.3 1098.9,1291.4 1100.7,1291.6 1102.6,1291.7 1104.5,1291.8 1106.3,1291.9 1108.2,1292.1 1110.1,1292.2 1111.9,1292.3 1113.8,1292.4 1115.7,1292.5 1117.6,1292.6 1119.4,1292.7 1121.3,1292.8 1123.2,1293.0 1125.0,1293.1 1126.9,1293.2 1128.8,1293.3 1130.6,1293.4 1132.5,1293.5 1134.4,1293.6 1136.2,1293.7 1138.1,1293.8 1140.0,1293.9 1141.8,1293.9 1143.7,1294.0 1145.6,1294.1 1147.5,1294.2 1149.3,1294.3 1151.2,1294.4 1153.1,1294.5 1154.9,1294.6 1156.8,1294.7 1158.7,1294.7 1160.5,1294.8 1162.4,1294.9 1164.3,1295.0 1166.1,1295.1 1168.0,1295.1 1169.9,1295.2 1171.8,1295.3 1173.6,1295.4 1175.5,1295.4 1177.4,1295.5 1179.2,1295.6 1181.1,1295.7 1183.0,1295.7 1184.8,1295.8 1186.7,1295.9 1188.6,1295.9 1190.4,1296.0 1192.3,1296.1 1194.2,1296.1 1196.0,1296.2 1197.9,1296.3 1199.8,1296.3 1201.7,1296.4 1203.5,1296.5 1205.4,1296.5 1207.3,1296.6 1209.1,1296.6 1211.0,1296.7 1212.9,1296.8 1214.7,1296.8 1216.6,1296.9 1218.5,1296.9 1220.3,1297.0 1222.2,1297.0 1224.1,1297.1 1226.0,1297.1 1227.8,1297.2 1229.7,1297.2 1231.6,1297.3 1233.4,1297.3 1235.3,1297.4 1237.2,1297.4 1239.0,1297.5 1240.9,1297.5 1242.8,1297.6 1244.7,1297.6 1246.5,1297.7 1248.4,1297.7 1250.3,1297.8 1252.1,1297.8 1254.0,1297.9 1255.9,1297.9 1257.7,1298.0 1259.6,1298.0 1261.5,1298.1 1263.3,1298.1 1265.2,1298.1 1267.1,1298.2 1269.0,1298.2 1270.8,1298.3 1272.7,1298.3 1274.6,1298.3 1276.4,1298.4 1278.3,1298.4 1280.2,1298.5 1282.0,1298.5 1283.9,1298.5 1285.8,1298.6 1287.6,1298.6 1289.5,1298.7 1291.4,1298.7 1293.3,1298.7 1295.1,1298.8 1297.0,1298.8 1298.9,1298.8 1300.7,1298.9 1302.6,1298.9 1304.5,1298.9 1306.3,1299.0 1308.2,1299.0 1310.1,1299.0 1311.9,1299.1 1313.8,1299.1 1315.7,1299.1 1317.6,1299.2 1319.4,1299.2 1321.3,1299.2 1323.2,1299.3 1325.0,1299.3 1326.9,1299.3 1328.8,1299.4" fill="none" stroke="#fff" stroke-width="4.6" stroke-linejoin="round" stroke-linecap="butt"/>
<polyline points="209.7,929.1 211.6,929.3 213.5,929.4 215.3,929.5 217.2,929.6 219.1,929.7 220.9,929.8 222.8,930.0 224.7,930.1 226.5,930.2 228.4,930.3 230.3,930.4 232.1,930.6 234.0,930.7 235.9,930.8 237.7,931.0 239.6,931.1 241.5,931.2 243.4,931.4 245.2,931.5 247.1,931.7 249.0,931.8 250.8,931.9 252.7,932.1 254.6,932.2 256.4,932.4 258.3,932.6 260.2,932.7 262.0,932.9 263.9,933.0 265.8,933.2 267.6,933.4 269.5,933.5 271.4,933.7 273.2,933.9 275.1,934.1 277.0,934.3 278.9,934.4 280.7,934.6 282.6,934.8 284.5,935.0 286.3,935.2 288.2,935.4 290.1,935.6 291.9,935.8 293.8,936.0 295.7,936.2 297.5,936.4 299.4,936.7 301.3,936.9 303.1,937.1 305.0,937.3 306.9,937.6 308.7,937.8 310.6,938.0 312.5,938.3 314.3,938.5 316.2,938.8 318.1,939.0 319.9,939.3 321.8,939.6 323.7,939.8 325.5,940.1 327.4,940.4 329.3,940.6 331.1,940.9 333.0,941.2 334.9,941.5 336.8,941.8 338.6,942.1 340.5,942.4 342.4,942.7 344.2,943.0 346.1,943.3 348.0,943.7 349.8,944.0 351.7,944.3 353.6,944.7 355.4,945.0 357.3,945.4 359.2,945.7 361.0,946.1 362.9,946.4 364.8,946.8 366.6,947.2 368.5,947.6 370.4,947.9 372.2,948.3 374.1,948.7 376.0,949.1 377.8,949.5 379.7,950.0 381.6,950.4 383.4,950.8 385.3,951.2 387.2,951.7 389.0,952.1 390.9,952.6 392.8,953.0 394.6,953.5 396.5,954.0 398.4,954.5 400.2,954.9 402.1,955.4 404.0,955.9 405.8,956.4 407.7,956.9 409.5,957.5 411.4,958.0 413.3,958.5 415.1,959.1 417.0,959.6 418.9,960.2 420.7,960.7 422.6,961.3 424.5,961.9 426.3,962.5 428.2,963.1 430.1,963.7 431.9,964.3 433.8,964.9 435.7,965.5 437.5,966.2 439.4,966.8 441.3,967.4 443.1,968.1 445.0,968.8 446.8,969.5 448.7,970.1 450.6,970.8 452.4,971.5 454.3,972.2 456.2,973.0 458.0,973.7 459.9,974.4 461.8,975.2 463.6,975.9 465.5,976.7 467.4,977.4 469.2,978.2 471.1,979.0 472.9,979.8 474.8,980.6 476.7,981.4 478.5,982.2 480.4,983.1 482.3,983.8 484.1,984.5 486.0,985.3 487.9,986.0 489.7,986.8 491.6,987.6 493.4,988.4 495.3,989.2 497.2,990.0 499.0,990.8 500.9,991.6 502.8,992.4 504.6,993.2 506.5,994.1 508.3,994.9 510.2,995.8 512.1,996.7 513.9,997.5 515.8,998.4 517.7,999.3 519.5,1000.2 521.4,1001.2 523.2,1002.2 525.1,1003.2 527.0,1004.2 528.8,1005.2 530.7,1006.2 532.5,1007.2 534.4,1008.3 536.3,1009.3 538.1,1010.4 540.0,1011.4 541.9,1012.5 543.7,1013.5 545.6,1014.6 547.4,1015.7 549.3,1016.8 551.2,1017.9 553.0,1019.0 554.9,1020.1 556.7,1021.2 558.6,1022.3 560.5,1023.4 562.3,1024.5 564.2,1025.6 566.0,1026.8 567.9,1027.7 569.8,1028.6 571.6,1029.5 573.5,1030.4 575.4,1031.3 577.2,1032.2 579.1,1033.1 580.9,1034.1 582.8,1035.0 584.7,1035.9 586.5,1036.8 588.4,1037.8 590.2,1038.7 592.1,1039.6 594.0,1040.6 595.8,1041.5 597.7,1042.5 599.5,1043.4 601.4,1044.6 603.3,1046.0 605.1,1047.3 607.0,1048.7 608.8,1050.0 610.7,1051.4 612.6,1052.7 614.4,1054.0 616.3,1055.4 618.1,1056.7 620.0,1058.1 621.9,1059.4 623.7,1060.8 625.6,1062.1 627.4,1063.5 629.3,1064.8 631.2,1066.3 633.0,1067.9 634.9,1069.5 636.8,1071.1 638.6,1072.7 640.5,1074.3 642.3,1075.9 644.2,1077.5 646.1,1079.1 647.9,1080.7 649.8,1082.3 651.6,1083.9 653.5,1085.5 655.4,1087.0 657.2,1088.6 659.1,1090.2 660.9,1091.9 662.8,1093.7 664.7,1095.5 666.5,1097.3 668.4,1099.1 670.2,1100.8 672.1,1102.6 674.0,1104.4 675.8,1106.2 677.7,1108.0 679.5,1109.8 681.4,1111.5 683.3,1113.3 685.1,1114.7 687.0,1116.1 688.8,1117.5 690.7,1118.9 692.6,1120.4 694.4,1121.8 696.3,1123.2 698.1,1124.6 700.0,1126.0 701.9,1127.4 703.7,1128.9 705.6,1130.3 707.5,1131.7 709.3,1133.1 711.2,1134.5 713.0,1136.0 714.9,1137.4 716.8,1138.8 718.6,1140.2 720.5,1141.6 722.3,1143.0 724.2,1144.4 726.1,1145.7 727.9,1147.1 729.8,1148.4 731.6,1149.8 733.5,1151.2 735.4,1152.5 737.2,1153.9 739.1,1155.3 740.9,1156.6 742.8,1158.0 744.7,1159.3 746.5,1160.7 748.4,1162.1 750.2,1163.4 752.1,1164.8 754.0,1166.2 755.8,1167.5 757.7,1168.9 759.5,1170.2 761.4,1171.5 763.3,1172.7 765.1,1173.9 767.0,1175.1 768.8,1176.4 770.7,1177.6 772.6,1178.8 774.4,1180.0 776.3,1181.2 778.2,1182.4 780.0,1183.6 781.9,1184.8 783.7,1186.0 785.6,1187.2 787.5,1188.4 789.3,1189.6 791.2,1190.8 793.0,1192.0 794.9,1193.2 796.8,1194.3 798.6,1195.5 800.5,1196.7 802.3,1197.8 804.2,1199.0 806.1,1200.2 807.9,1201.3 809.8,1202.5 811.6,1203.6 813.5,1204.8 815.4,1205.9 817.2,1207.0 819.1,1208.1 821.0,1209.3 822.8,1210.4 824.7,1211.5 826.5,1212.6 828.4,1213.7 830.3,1214.8 832.1,1215.8 834.0,1216.9 835.8,1218.0 837.7,1219.0 839.6,1220.1 841.4,1221.1 843.3,1222.2 845.2,1223.2 847.0,1224.2 848.9,1225.2 850.7,1226.2 852.6,1227.2 854.5,1228.1 856.3,1229.0 858.2,1229.9 860.1,1230.8 861.9,1231.7 863.8,1232.5 865.6,1233.4 867.5,1234.3 869.4,1235.1 871.2,1236.0 873.1,1236.8 875.0,1237.6 876.8,1238.4 878.7,1239.3 880.5,1240.1 882.4,1240.8 884.3,1241.6 886.1,1242.4 888.0,1243.2 889.9,1243.9 891.7,1244.7 893.6,1245.4 895.4,1246.1 897.3,1246.9 899.2,1247.6 901.0,1248.3 902.9,1249.0 904.8,1249.7 906.6,1250.3 908.5,1251.0 910.4,1251.7 912.2,1252.3 914.1,1253.0 916.0,1253.6 917.8,1254.2 919.7,1254.9 921.5,1255.5 923.4,1256.1 925.3,1256.7 927.1,1257.2 929.0,1257.8 930.9,1258.4 932.7,1259.0 934.6,1259.5 936.5,1260.1 938.3,1260.6 940.2,1261.1 942.1,1261.6 943.9,1262.2 945.8,1262.7 947.7,1263.2 949.5,1263.7 951.4,1264.2 953.3,1264.7 955.1,1265.2 957.0,1265.8 958.8,1266.3 960.7,1266.8 962.6,1267.3 964.4,1267.8 966.3,1268.3 968.2,1268.8 970.0,1269.2 971.9,1269.7 973.8,1270.2 975.6,1270.6 977.5,1271.1 979.4,1271.5 981.2,1271.9 983.1,1272.4 985.0,1272.8 986.8,1273.2 988.7,1273.6 990.6,1274.0 992.4,1274.4 994.3,1274.8 996.2,1275.2 998.0,1275.6 999.9,1276.0 1001.8,1276.3 1003.6,1276.7 1005.5,1277.1 1007.4,1277.4 1009.2,1277.8 1011.1,1278.1 1013.0,1278.4 1014.8,1278.8 1016.7,1279.1 1018.6,1279.4 1020.4,1279.8 1022.3,1280.1 1024.2,1280.4 1026.0,1280.7 1027.9,1281.0 1029.8,1281.3 1031.6,1281.6 1033.5,1281.9 1035.4,1282.1 1037.2,1282.4 1039.1,1282.7 1041.0,1283.0 1042.9,1283.2 1044.7,1283.5 1046.6,1283.8 1048.5,1284.0 1050.3,1284.3 1052.2,1284.5 1054.1,1284.8 1055.9,1285.0 1057.8,1285.2 1059.7,1285.5 1061.5,1285.7 1063.4,1285.9 1065.3,1286.2 1067.1,1286.4 1069.0,1286.6 1070.9,1286.8 1072.7,1287.0 1074.6,1287.2 1076.5,1287.4 1078.3,1287.6 1080.2,1287.8 1082.1,1288.0 1083.9,1288.2 1085.8,1288.4 1087.7,1288.6 1089.5,1288.8 1091.4,1288.9 1093.3,1289.1 1095.2,1289.3 1097.0,1289.5 1098.9,1289.6 1100.8,1289.8 1102.6,1290.0 1104.5,1290.1 1106.4,1290.3 1108.2,1290.4 1110.1,1290.6 1112.0,1290.8 1113.8,1290.9 1115.7,1291.0 1117.6,1291.2 1119.4,1291.3 1121.3,1291.5 1123.2,1291.6 1125.0,1291.8 1126.9,1291.9 1128.8,1292.0 1130.7,1292.1 1132.5,1292.3 1134.4,1292.4 1136.3,1292.5 1138.1,1292.6 1140.0,1292.8 1141.9,1292.9 1143.7,1293.0 1145.6,1293.1 1147.5,1293.2 1149.3,1293.3 1151.2,1293.5 1153.1,1293.6 1154.9,1293.7 1156.8,1293.8 1158.7,1293.9 1160.6,1294.0 1162.4,1294.1 1164.3,1294.2 1166.2,1294.3 1168.0,1294.4 1169.9,1294.5 1171.8,1294.6 1173.6,1294.6 1175.5,1294.7 1177.4,1294.8 1179.2,1294.9 1181.1,1295.0 1183.0,1295.1 1184.8,1295.2 1186.7,1295.2 1188.6,1295.3 1190.5,1295.4 1192.3,1295.5 1194.2,1295.6 1196.1,1295.6 1197.9,1295.7 1199.8,1295.8 1201.7,1295.9 1203.5,1295.9 1205.4,1296.0 1207.3,1296.1 1209.1,1296.1 1211.0,1296.2 1212.9,1296.3 1214.8,1296.3 1216.6,1296.4 1218.5,1296.5 1220.4,1296.5 1222.2,1296.6 1224.1,1296.6 1226.0,1296.7 1227.8,1296.8 1229.7,1296.8 1231.6,1296.9 1233.4,1296.9 1235.3,1297.0 1237.2,1297.0 1239.1,1297.1 1240.9,1297.1 1242.8,1297.2 1244.7,1297.2 1246.5,1297.3 1248.4,1297.3 1250.3,1297.4 1252.1,1297.4 1254.0,1297.5 1255.9,1297.5 1257.7,1297.6 1259.6,1297.6 1261.5,1297.7 1263.4,1297.7 1265.2,1297.7 1267.1,1297.8 1269.0,1297.8 1270.8,1297.9 1272.7,1297.9 1274.6,1297.9 1276.4,1298.0 1278.3,1298.0 1280.2,1298.1 1282.0,1298.1 1283.9,1298.1 1285.8,1298.2 1287.7,1298.2 1289.5,1298.2 1291.4,1298.3 1293.3,1298.3 1295.1,1298.3 1297.0,1298.4 1298.9,1298.4 1300.7,1298.4 1302.6,1298.5 1304.5,1298.5 1306.3,1298.5 1308.2,1298.5 1310.1,1298.6 1312.0,1298.6 1313.8,1298.6 1315.7,1298.7 1317.6,1298.7 1319.4,1298.7 1321.3,1298.7 1323.2,1298.8 1325.0,1298.8 1326.9,1298.8 1328.8,1298.8" fill="none" stroke="#fff" stroke-width="4.6" stroke-linejoin="round" stroke-linecap="butt"/>
<polyline points="209.8,927.3 211.6,927.3 213.5,927.3 215.4,927.4 217.2,927.4 219.1,927.4 221.0,927.4 222.9,927.4 224.7,927.4 226.6,927.5 228.5,927.5 230.3,927.5 232.2,927.5 234.1,927.5 235.9,927.5 237.8,927.5 239.7,927.6 241.5,927.6 243.4,927.6 245.3,927.6 247.2,927.6 249.0,927.6 250.9,927.7 252.8,927.7 254.6,927.7 256.5,927.7 258.4,927.7 260.2,927.7 262.1,927.8 264.0,927.8 265.8,927.8 267.7,927.8 269.6,927.8 271.5,927.9 273.3,927.9 275.2,927.9 277.1,927.9 278.9,927.9 280.8,928.0 282.7,928.0 284.5,928.0 286.4,928.0 288.3,928.0 290.2,928.1 292.0,928.1 293.9,928.1 295.8,928.1 297.6,928.1 299.5,928.2 301.4,928.2 303.2,928.2 305.1,928.2 307.0,928.3 308.8,928.3 310.7,928.3 312.6,928.3 314.5,928.3 316.3,928.4 318.2,928.4 320.1,928.4 321.9,928.4 323.8,928.5 325.7,928.5 327.5,928.5 329.4,928.5 331.3,928.6 333.1,928.6 335.0,928.6 336.9,928.7 338.8,928.7 340.6,928.7 342.5,928.7 344.4,928.8 346.2,928.8 348.1,928.8 350.0,928.9 351.8,928.9 353.7,928.9 355.6,928.9 357.5,928.9 359.3,928.9 361.2,928.9 363.1,928.9 364.9,928.9 366.8,929.0 368.7,929.0 370.5,929.0 372.4,929.0 374.3,929.0 376.1,929.0 378.0,929.1 379.9,929.1 381.8,929.1 383.6,929.1 385.5,929.1 387.4,929.1 389.2,929.2 391.1,929.2 393.0,929.2 394.8,929.2 396.7,929.2 398.6,929.3 400.4,929.3 402.3,929.3 404.2,929.3 406.1,929.4 407.9,929.4 409.8,929.4 411.7,929.4 413.5,929.5 415.4,929.5 417.3,929.5 419.1,929.5 421.0,929.6 422.9,929.6 424.7,929.6 426.6,929.6 428.5,929.6 430.4,929.6 432.2,929.6 434.1,929.6 436.0,929.6 437.8,929.6 439.7,929.6 441.6,929.6 443.4,929.6 445.3,929.7 447.2,929.7 449.0,929.7 450.9,929.7 452.8,929.7 454.7,929.7 456.5,929.8 458.4,929.8 460.3,929.8 462.1,929.8 464.0,929.8 465.9,929.9 467.7,929.9 469.6,929.9 471.5,929.9 473.3,930.0 475.2,930.0 477.1,930.0 479.0,930.1 480.8,930.1 482.7,930.2 484.6,930.3 486.4,930.4 488.3,930.4 490.2,930.5 492.0,930.6 493.9,930.7 495.8,930.8 497.6,930.8 499.5,930.9 501.4,931.0 503.2,931.1 505.1,931.2 507.0,931.3 508.9,931.4 510.7,931.5 512.6,931.6 514.5,931.7 516.3,931.8 518.2,931.9 520.1,932.0 521.9,932.2 523.8,932.4 525.7,932.6 527.5,932.8 529.4,933.0 531.3,933.2 533.1,933.4 535.0,933.6 536.9,933.8 538.8,934.1 560.0,935.9 561.3,936.1 562.9,936.2 564.8,936.5 566.9,936.7 569.2,937.0 571.7,937.3 574.2,937.6 576.8,937.9 579.4,938.2 581.9,938.5 584.4,938.9 586.7,939.2 588.9,939.5 591.2,939.8 593.5,940.2 595.8,940.5 598.1,940.8 600.4,941.2 602.7,941.5 604.9,941.9 607.1,942.3 609.2,942.7 611.3,943.1 613.3,943.6 615.2,944.1 617.0,944.6 618.8,945.1 620.6,945.6 622.2,946.2 623.9,946.8 625.5,947.4 627.1,948.0 628.6,948.6 630.2,949.3 631.7,950.0 633.3,950.7 634.9,951.5 636.4,952.3 638.0,953.1 639.5,954.0 641.1,954.9 642.6,955.8 644.1,956.7 645.5,957.6 646.9,958.6 648.2,959.5 649.5,960.4 650.7,961.3 651.8,962.2 652.9,963.0 653.9,963.9 654.8,964.7 655.7,965.5 656.5,966.4 657.3,967.3 658.1,968.1 658.9,969.0 659.7,970.0 660.5,971.0 661.3,972.0 662.1,973.1 663.0,974.2 663.8,975.4 664.7,976.7 665.5,977.9 666.3,979.2 667.1,980.5 667.9,981.8 668.7,983.0 669.4,984.3 670.1,985.5 670.7,986.7 671.3,987.8 671.9,988.9 672.4,990.0 672.9,991.0 673.3,992.0 673.8,993.0 674.2,994.1 674.6,995.1 675.0,996.2 675.3,997.4 675.7,998.7 676.0,1000.0 676.3,1001.4 676.6,1002.9 676.9,1004.5 677.1,1006.2 677.4,1007.9 677.6,1009.6 677.8,1011.3 678.0,1013.1 678.2,1014.8 678.4,1016.6 678.5,1018.3 678.7,1020.0 678.9,1021.6 679.0,1023.3 679.1,1024.8 679.2,1026.4 679.3,1028.0 679.4,1029.6 679.5,1031.2 679.6,1032.8 679.7,1034.5 679.8,1036.3 679.9,1038.1 680.0,1040.0 680.1,1042.0 680.2,1044.1 680.3,1046.2 680.4,1048.4 680.5,1050.7 680.6,1052.9 680.8,1055.2 680.9,1057.6 681.0,1059.9 681.1,1062.2 681.2,1064.5 681.3,1066.7 681.4,1068.9 681.5,1071.2 681.6,1073.5 681.8,1075.8 681.9,1078.1 682.0,1080.4 682.1,1082.7 682.2,1084.9 682.3,1087.1 682.4,1089.3 682.5,1091.3 682.6,1093.3 682.7,1095.2 682.7,1096.9 682.7,1098.5 682.7,1100.1 682.7,1101.6 682.7,1103.1 682.7,1104.6 682.7,1106.1 682.8,1107.7 682.8,1109.4 682.8,1111.1 682.9,1113.0 683.0,1115.0 683.1,1117.0 683.2,1119.2 683.3,1121.3 683.4,1123.6 683.6,1125.9 683.7,1128.2 683.9,1130.5 684.0,1132.9 684.2,1135.2 684.3,1137.6 684.5,1140.0 684.7,1142.4 684.8,1144.8 685.0,1147.3 685.2,1149.9 685.4,1152.4 685.6,1154.9 685.8,1157.5 686.0,1160.0 686.2,1162.6 686.4,1165.1 686.7,1167.6 687.0,1170.0 687.3,1172.4 687.6,1174.8 688.0,1177.2 688.3,1179.5 688.7,1181.9 689.1,1184.2 689.5,1186.5 689.9,1188.8 690.4,1191.1 690.8,1193.4 691.2,1195.7 691.7,1198.0 692.2,1200.3 692.6,1202.6 693.1,1204.9 693.5,1207.2 694.0,1209.5 694.5,1211.8 695.0,1214.1 695.6,1216.3 696.1,1218.6 696.7,1220.7 697.3,1222.9 698.0,1225.0 698.7,1227.1 699.4,1229.1 700.1,1231.2 700.9,1233.2 701.7,1235.2 702.5,1237.2 703.4,1239.1 704.2,1241.0 705.1,1242.8 706.1,1244.6 707.0,1246.3 708.0,1248.0 709.0,1249.6 710.1,1251.1 711.1,1252.6 712.2,1254.1 713.3,1255.5 714.5,1256.8 715.7,1258.1 716.9,1259.4 718.1,1260.6 719.4,1261.8 720.7,1262.9 722.0,1264.0 723.4,1265.1 724.7,1266.0 726.2,1267.0 727.6,1267.9 729.1,1268.7 730.6,1269.6 732.2,1270.3 733.7,1271.1 735.3,1271.9 736.8,1272.6 738.4,1273.3 740.0,1274.0 741.6,1274.7 743.2,1275.4 744.9,1276.0 746.5,1276.6 748.2,1277.2 749.9,1277.8 751.6,1278.3 753.3,1278.9 755.0,1279.4 756.6,1280.0 758.3,1280.5 760.0,1281.0 761.7,1281.5 763.3,1282.0 765.0,1282.5 766.7,1283.0 768.3,1283.5 770.0,1283.9 771.7,1284.4 773.3,1284.8 775.0,1285.3 776.7,1285.7 778.3,1286.1 780.0,1286.5 781.6,1286.9 783.2,1287.2 784.8,1287.6 786.3,1287.9 787.8,1288.3 789.4,1288.6 791.0,1288.9 792.6,1289.2 794.3,1289.5 796.1,1289.8 798.0,1290.2 800.0,1290.5 802.1,1290.9 804.3,1291.2 806.6,1291.6 808.9,1292.0 811.3,1292.3 813.8,1292.7 816.3,1293.1 818.9,1293.4 821.6,1293.8 824.3,1294.1 827.1,1294.5 830.0,1294.8 833.0,1295.1 836.0,1295.4 839.1,1295.7 842.2,1296.0 845.5,1296.3 848.8,1296.6 852.1,1296.9 855.6,1297.1 859.1,1297.4 862.6,1297.6 866.3,1297.8 870.0,1298.0 873.7,1298.2 877.4,1298.3 881.1,1298.5 884.8,1298.6 888.6,1298.7 892.5,1298.8 896.5,1298.9 900.7,1299.0 905.2,1299.1 909.8,1299.1 914.8,1299.2 920.0,1299.3 925.6,1299.4 931.4,1299.5 937.4,1299.5 943.7,1299.6 950.2,1299.6 956.9,1299.7 963.7,1299.8 970.7,1299.8 977.9,1299.9 985.2,1299.9 992.5,1300.0 1000.0,1300.0 1007.6,1300.0 1015.5,1300.1 1023.6,1300.1 1031.9,1300.2 1040.2,1300.2 1048.8,1300.2 1057.3,1300.2 1065.9,1300.3 1074.5,1300.3 1083.1,1300.3 1091.6,1300.4 1100.0,1300.4 1108.3,1300.4 1116.4,1300.5 1124.4,1300.5 1132.4,1300.5 1140.4,1300.6 1148.4,1300.6 1156.5,1300.6 1164.7,1300.7 1173.2,1300.7 1181.8,1300.7 1190.8,1300.8 1200.0,1300.8 1210.0,1300.8 1221.0,1300.9 1232.6,1300.9 1244.7,1300.9 1257.0,1301.0 1269.2,1301.0 1281.1,1301.1 1292.4,1301.1 1302.8,1301.1 1312.0,1301.2 1319.8,1301.2 1326.0,1301.2" fill="none" stroke="#fff" stroke-width="4.6" stroke-linejoin="round" stroke-linecap="butt"/>
<polygon points="213.0,927.3 218.0,927.4 223.0,927.4 228.0,927.5 233.0,927.5 238.0,927.5 243.0,927.6 248.0,927.6 253.0,927.7 258.0,927.7 263.0,927.8 268.0,927.8 273.0,927.9 278.0,927.9 283.0,928.0 288.0,928.0 293.0,928.1 298.0,928.1 303.0,928.2 308.0,928.3 313.0,928.3 318.0,928.4 323.0,928.5 328.0,928.5 333.0,928.6 338.0,928.7 343.0,928.7 348.0,928.8 353.0,928.9 358.0,928.9 363.0,928.9 368.0,929.0 373.0,929.0 378.0,929.1 383.0,929.1 388.0,929.1 393.0,929.2 398.0,929.3 403.0,929.3 408.0,929.4 410.0,929.4 370.0,938.4 410.0,957.6 408.0,957.0 403.0,955.7 398.0,954.4 393.0,953.1 388.0,951.9 383.0,950.7 378.0,949.6 373.0,948.5 368.0,947.5 363.0,946.5 358.0,945.5 353.0,944.6 348.0,943.7 343.0,942.8 338.0,942.0 333.0,941.2 328.0,940.5 323.0,939.7 318.0,939.0 313.0,938.4 308.0,937.7 303.0,937.1 298.0,936.5 293.0,935.9 288.0,935.4 283.0,934.9 278.0,934.4 273.0,933.9 268.0,933.4 263.0,933.0 258.0,932.5 253.0,932.1 248.0,931.7 243.0,931.3 238.0,931.0 233.0,930.6 228.0,930.3 223.0,930.0 218.0,929.7 213.0,929.4" fill="#fff"/>
<polygon points="380.0,929.1 385.0,929.1 390.0,929.2 395.0,929.2 400.0,929.3 405.0,929.3 410.0,929.4 415.0,929.5 420.0,929.5 425.0,929.6 430.0,929.6 435.0,929.6 440.0,929.6 410.0,937.6 440.0,952.5 435.0,951.1 430.0,949.9 425.0,948.7 420.0,947.5 415.0,946.6 410.0,945.7 405.0,944.9 400.0,944.1 395.0,943.3 390.0,942.6 385.0,941.9 380.0,941.2" fill="#fff"/>
<polygon points="400.0,929.3 405.0,929.3 410.0,929.4 415.0,929.5 420.0,929.5 425.0,929.6 430.0,929.6 435.0,929.6 440.0,929.6 445.0,929.7 450.0,929.7 455.0,929.7 460.0,929.8 465.0,929.9 470.0,929.9 475.0,930.0 480.0,930.1 450.0,937.3 480.0,949.7 475.0,948.7 470.0,947.9 465.0,947.1 460.0,946.3 455.0,945.6 450.0,944.9 445.0,944.3 440.0,943.7 435.0,943.1 430.0,942.6 425.0,942.1 420.0,941.7 415.0,941.0 410.0,940.4 405.0,939.8 400.0,939.3" fill="#fff"/>
<polygon points="440.0,929.6 445.0,929.7 450.0,929.7 455.0,929.7 460.0,929.8 465.0,929.9 470.0,929.9 475.0,930.0 480.0,930.1 485.0,930.3 490.0,930.5 495.0,930.7 500.0,931.0 505.0,931.2 510.0,931.5 515.0,931.7 520.0,932.0 525.0,932.5 530.0,933.1 490.0,935.9 530.0,947.5 525.0,946.1 520.0,944.7 515.0,944.0 510.0,943.3 505.0,942.7 500.0,942.2 495.0,941.7 490.0,941.2 485.0,940.8 480.0,940.4 475.0,939.8 470.0,939.2 465.0,938.7 460.0,938.1 455.0,937.7 450.0,937.2 445.0,936.8 440.0,936.3" fill="#fff"/>
<polygon points="500.0,931.0 505.0,931.2 510.0,931.5 515.0,931.7 520.0,932.0 525.0,932.5 530.0,933.1 535.0,933.6 540.0,934.2 545.0,934.6 550.0,935.0 555.0,935.5 560.0,935.9 565.0,936.5 570.0,937.1 575.0,937.7 535.0,937.3 575.0,949.0 570.0,947.6 565.0,946.4 560.0,945.3 555.0,944.3 550.0,943.4 545.0,942.5 540.0,941.7 535.0,940.9 530.0,940.2 525.0,939.5 520.0,938.9 515.0,938.4 510.0,937.9 505.0,937.5 500.0,937.1" fill="#fff"/>
<polygon points="213.0,924.2 350.0,925.9 420.0,926.9 470.0,931.0 420.0,935.0 213.0,932.4" fill="#fff"/>
<polygon points="1000.0,1276.0 1005.0,1277.0 1010.0,1277.9 1015.0,1278.8 1020.0,1279.7 1025.0,1280.5 1030.0,1281.3 1035.0,1282.1 1040.0,1282.8 1045.0,1283.5 1050.0,1284.2 1055.0,1284.9 1060.0,1285.5 1065.0,1286.1 1070.0,1286.7 1075.0,1287.3 1080.0,1287.8 1085.0,1288.3 1090.0,1288.8 1095.0,1289.3 1100.0,1289.7 1105.0,1290.2 1110.0,1290.6 1115.0,1291.0 1120.0,1291.4 1125.0,1291.7 1130.0,1292.1 1135.0,1292.4 1140.0,1292.8 1145.0,1293.1 1150.0,1293.4 1155.0,1293.7 1160.0,1293.9 1165.0,1294.2 1170.0,1294.5 1175.0,1294.7 1180.0,1294.9 1185.0,1295.2 1190.0,1295.4 1195.0,1295.6 1200.0,1295.8 1205.0,1296.0 1210.0,1296.2 1215.0,1296.3 1220.0,1296.5 1225.0,1296.7 1230.0,1296.8 1235.0,1297.0 1240.0,1297.1 1245.0,1297.2 1250.0,1297.4 1255.0,1297.5 1260.0,1297.6 1265.0,1297.7 1270.0,1297.8 1275.0,1297.9 1280.0,1298.0 1285.0,1298.1 1290.0,1298.2 1295.0,1298.3 1300.0,1298.4 1305.0,1298.5 1310.0,1298.6 1315.0,1298.6 1320.0,1298.7 1325.0,1298.8 1326.0,1298.8 1326.0,1301.2 1325.0,1301.2 1320.0,1301.2 1315.0,1301.2 1310.0,1301.2 1305.0,1301.1 1300.0,1301.1 1295.0,1301.1 1290.0,1301.1 1285.0,1301.1 1280.0,1301.1 1275.0,1301.0 1270.0,1301.0 1265.0,1301.0 1260.0,1301.0 1255.0,1301.0 1250.0,1301.0 1245.0,1300.9 1240.0,1300.9 1235.0,1300.9 1230.0,1300.9 1225.0,1300.9 1220.0,1300.9 1215.0,1300.9 1210.0,1300.8 1205.0,1300.8 1200.0,1300.8 1195.0,1300.8 1190.0,1300.8 1185.0,1300.7 1180.0,1300.7 1175.0,1300.7 1170.0,1300.7 1165.0,1300.7 1160.0,1300.6 1155.0,1300.6 1150.0,1300.6 1145.0,1300.6 1140.0,1300.6 1135.0,1300.5 1130.0,1300.5 1125.0,1300.5 1120.0,1300.5 1115.0,1300.5 1110.0,1300.4 1105.0,1300.4 1100.0,1300.4 1095.0,1300.4 1090.0,1300.4 1085.0,1300.3 1080.0,1300.3 1075.0,1300.3 1070.0,1300.3 1065.0,1300.3 1060.0,1300.3 1055.0,1300.2 1050.0,1300.2 1045.0,1300.2 1040.0,1300.2 1035.0,1300.2 1030.0,1300.1 1025.0,1300.1 1020.0,1300.1 1015.0,1300.1 1010.0,1300.1 1005.0,1300.0 1000.0,1300.0 1050.0,1292.2" fill="#fff"/>
<polygon points="930.0,1268.0 935.0,1269.2 940.0,1270.4 945.0,1271.5 950.0,1272.6 955.0,1273.7 960.0,1274.7 965.0,1275.6 970.0,1276.6 975.0,1277.5 980.0,1278.3 985.0,1279.1 990.0,1279.9 995.0,1280.7 1000.0,1281.4 1005.0,1282.2 1010.0,1282.8 1015.0,1283.5 1020.0,1284.1 1025.0,1284.7 1030.0,1285.3 1035.0,1285.9 1040.0,1286.4 1045.0,1286.9 1050.0,1287.4 1055.0,1287.9 1060.0,1288.4 1060.0,1300.3 1055.0,1300.2 1050.0,1300.2 1045.0,1300.2 1040.0,1300.2 1035.0,1300.2 1030.0,1300.1 1025.0,1300.1 1020.0,1300.1 1015.0,1300.1 1010.0,1300.1 1005.0,1300.0 1000.0,1300.0 995.0,1300.0 990.0,1299.9 985.0,1299.9 980.0,1299.9 975.0,1299.8 970.0,1299.8 965.0,1299.8 960.0,1299.7 955.0,1299.7 950.0,1299.6 945.0,1299.6 940.0,1299.6 935.0,1299.5 930.0,1299.4 980.0,1289.1" fill="#fff"/>
<polygon points="870.0,1262.4 875.0,1263.8 880.0,1265.3 885.0,1266.6 890.0,1267.9 895.0,1269.2 900.0,1270.4 905.0,1271.5 910.0,1272.6 915.0,1273.7 920.0,1274.7 925.0,1275.7 930.0,1276.6 935.0,1277.5 940.0,1278.4 945.0,1279.2 950.0,1280.0 955.0,1280.7 960.0,1281.5 965.0,1282.2 970.0,1282.8 975.0,1283.5 980.0,1284.1 980.0,1299.9 975.0,1299.8 970.0,1299.8 965.0,1299.8 960.0,1299.7 955.0,1299.7 950.0,1299.6 945.0,1299.6 940.0,1299.6 935.0,1299.5 930.0,1299.4 925.0,1299.4 920.0,1299.3 915.0,1299.2 910.0,1299.1 905.0,1299.1 900.0,1299.0 895.0,1298.9 890.0,1298.7 885.0,1298.6 880.0,1298.4 875.0,1298.2 870.0,1298.0 920.0,1287.0" fill="#fff"/>
<polygon points="820.0,1264.6 825.0,1266.5 830.0,1268.3 835.0,1270.0 840.0,1271.6 845.0,1273.2 850.0,1274.7 855.0,1275.7 860.0,1276.7 865.0,1277.6 870.0,1278.4 875.0,1279.2 880.0,1280.0 885.0,1280.7 890.0,1281.4 895.0,1282.1 900.0,1282.7 905.0,1283.3 910.0,1283.9 915.0,1284.4 920.0,1284.9 925.0,1285.4 930.0,1285.9 935.0,1286.3 940.0,1286.7 945.0,1287.1 950.0,1287.5 955.0,1287.9 960.0,1288.4 965.0,1288.8 970.0,1289.2 975.0,1289.6 980.0,1290.0 985.0,1290.3 990.0,1290.7 995.0,1291.0 1000.0,1291.3 1000.0,1300.0 995.0,1300.0 990.0,1299.9 985.0,1299.9 980.0,1299.9 975.0,1299.8 970.0,1299.8 965.0,1299.8 960.0,1299.7 955.0,1299.7 950.0,1299.6 945.0,1299.6 940.0,1299.6 935.0,1299.5 930.0,1299.4 925.0,1299.4 920.0,1299.3 915.0,1299.2 910.0,1299.1 905.0,1299.1 900.0,1299.0 895.0,1298.9 890.0,1298.7 885.0,1298.6 880.0,1298.4 875.0,1298.2 870.0,1298.0 865.0,1297.7 860.0,1297.4 855.0,1297.1 850.0,1296.7 845.0,1296.3 840.0,1295.8 835.0,1295.3 830.0,1294.8 825.0,1294.2 820.0,1293.6 860.0,1287.0" fill="#fff"/>
<polygon points="780.0,1268.0 785.0,1269.7 790.0,1271.3 795.0,1272.8 800.0,1274.2 805.0,1275.5 810.0,1276.7 815.0,1277.9 820.0,1279.0 825.0,1280.1 830.0,1281.1 835.0,1282.0 840.0,1282.9 845.0,1283.8 850.0,1284.6 855.0,1285.2 860.0,1285.8 865.0,1286.3 870.0,1286.8 875.0,1287.3 880.0,1287.8 885.0,1288.2 890.0,1288.7 895.0,1289.1 900.0,1289.4 900.0,1299.0 895.0,1298.9 890.0,1298.7 885.0,1298.6 880.0,1298.4 875.0,1298.2 870.0,1298.0 865.0,1297.7 860.0,1297.4 855.0,1297.1 850.0,1296.7 845.0,1296.3 840.0,1295.8 835.0,1295.3 830.0,1294.8 825.0,1294.2 820.0,1293.6 815.0,1292.9 810.0,1292.1 805.0,1291.3 800.0,1290.5 795.0,1289.6 790.0,1288.7 785.0,1287.6 780.0,1286.5 820.0,1286.3" fill="#fff"/>
<polygon points="900.0,1299.6 960.0,1296.8 1000.0,1294.8 1120.0,1296.5 1215.0,1296.2 1325.0,1296.2 1325.0,1304.3 1215.0,1304.2 1120.0,1303.6 1026.0,1302.6 940.0,1301.9 900.0,1301.4" fill="#fff"/>
<polyline points="630.0,1077.4 682.9,1113.0 716.0,1135.3" fill="none" stroke="#fff" stroke-width="6.0" stroke-linejoin="round" stroke-linecap="round"/>
<polyline points="782.0,1181.5 812.0,1201.5 850.0,1226.5" fill="none" stroke="#fff" stroke-width="4.6" stroke-linejoin="round" stroke-linecap="round"/>
<line x1="588.0" y1="1049.2" x2="594.0" y2="1053.2" stroke="#fff" stroke-width="6.5" stroke-linecap="round"/>
<line x1="606.0" y1="1061.3" x2="612.0" y2="1065.3" stroke="#fff" stroke-width="6.5" stroke-linecap="round"/>
<line x1="724.0" y1="1140.7" x2="730.0" y2="1144.7" stroke="#fff" stroke-width="6.5" stroke-linecap="round"/>
<line x1="743.0" y1="1153.4" x2="750.0" y2="1158.1" stroke="#fff" stroke-width="6.5" stroke-linecap="round"/>
<line x1="764.0" y1="1167.5" x2="771.0" y2="1172.2" stroke="#fff" stroke-width="6.5" stroke-linecap="round"/>
<line x1="707.9" y1="887.6" x2="624.8" y2="935.8" stroke="#fff" stroke-width="3.0" stroke-linecap="butt"/>
<polygon points="614.4,941.8 624.0,930.5 629.0,939.1" fill="#fff"/>
<line x1="726.1" y1="922.8" x2="644.1" y2="970.1" stroke="#fff" stroke-width="3.0" stroke-linecap="butt"/>
<polygon points="633.7,976.1 643.3,964.8 648.3,973.4" fill="#fff"/>
<line x1="747.2" y1="955.7" x2="643.5" y2="1018.3" stroke="#fff" stroke-width="3.0" stroke-linecap="butt"/>
<line x1="442.3" y1="1026.9" x2="485.2" y2="998.4" stroke="#fff" stroke-width="3.0" stroke-linecap="butt"/>
<polygon points="494.4,992.3 486.1,1003.2 481.1,995.7" fill="#fff"/>
<line x1="478.6" y1="1051.6" x2="550.4" y2="1008.7" stroke="#fff" stroke-width="3.0" stroke-linecap="butt"/>
<line x1="507.6" y1="1086.2" x2="604.8" y2="1023.6" stroke="#fff" stroke-width="3.0" stroke-linecap="butt"/>
<line x1="945.8" y1="1137.3" x2="864.7" y2="1223.4" stroke="#fff" stroke-width="2.8" stroke-linecap="butt"/>
<polygon points="855.8,1232.9 862.4,1218.6 869.7,1225.4" fill="#fff"/>
<text transform="translate(150.87,47.50) scale(1.0343,1.0261)" font-family='"Liberation Sans", sans-serif' font-size="33" fill="#fff" stroke="#fff" stroke-width="0.7" stroke-linejoin="round">20</text>
<text transform="translate(126.11,158.90) scale(1.0875,1.0500)" font-family='"Liberation Sans", sans-serif' font-size="33" fill="#fff" stroke="#fff" stroke-width="0.7" stroke-linejoin="round">0dB</text>
<text transform="translate(123.54,271.49) scale(1.1813,1.1813)" font-family='"Liberation Sans", sans-serif' font-size="33" fill="#fff" >−</text>
<text transform="translate(151.15,269.30) scale(1.0486,1.0261)" font-family='"Liberation Sans", sans-serif' font-size="33" fill="#fff" stroke="#fff" stroke-width="0.7" stroke-linejoin="round">20</text>
<text transform="translate(125.44,380.84) scale(1.0312,1.0312)" font-family='"Liberation Sans", sans-serif' font-size="33" fill="#fff" >−</text>
<text transform="translate(152.20,381.20) scale(0.9972,1.0261)" font-family='"Liberation Sans", sans-serif' font-size="33" fill="#fff" stroke="#fff" stroke-width="0.7" stroke-linejoin="round">40</text>
<text transform="translate(123.54,491.69) scale(1.1813,1.1813)" font-family='"Liberation Sans", sans-serif' font-size="33" fill="#fff" >−</text>
<text transform="translate(151.17,490.50) scale(1.0257,1.0391)" font-family='"Liberation Sans", sans-serif' font-size="33" fill="#fff" stroke="#fff" stroke-width="0.7" stroke-linejoin="round">60</text>
<text transform="translate(123.74,602.39) scale(1.0812,1.0812)" font-family='"Liberation Sans", sans-serif' font-size="33" fill="#fff" >−</text>
<text transform="translate(150.04,602.00) scale(1.0571,1.0261)" font-family='"Liberation Sans", sans-serif' font-size="33" fill="#fff" stroke="#fff" stroke-width="0.7" stroke-linejoin="round">80</text>
<text transform="translate(85.90,417.60) rotate(-90) scale(0.9952,1.1375)" font-family='"Liberation Sans", sans-serif' font-size="33" fill="#fff" stroke="#fff" stroke-width="0.7" stroke-linejoin="round">20 log<tspan dy="6" dx="1.7" font-size="23">10</tspan><tspan dy="-6" dx="2.5">|</tspan><tspan dx="-2.5">H(j</tspan><tspan dx="7" textLength="18.5" lengthAdjust="spacingAndGlyphs" font-size="31">ω</tspan><tspan dx="-1">)|</tspan></text>
<text transform="translate(362.81,633.07) scale(0.9904,1.0333)" font-family='"Liberation Sans", sans-serif' font-size="33" fill="#fff" stroke="#fff" stroke-width="0.7" stroke-linejoin="round">0.1ω<tspan dy="7" font-size="24">n</tspan></text>
<text transform="translate(660.19,636.02) scale(1.0081,0.9115)" font-family='"Liberation Sans", sans-serif' font-size="33" fill="#fff" stroke="#fff" stroke-width="0.7" stroke-linejoin="round">ω<tspan dy="7" font-size="24">n</tspan></text>
<text transform="translate(915.38,636.45) scale(1.0082,0.9933)" font-family='"Liberation Sans", sans-serif' font-size="33" fill="#fff" stroke="#fff" stroke-width="0.7" stroke-linejoin="round">10ω<tspan dy="7" font-size="24">n</tspan></text>
<text transform="translate(1188.82,638.08) scale(1.0418,1.0600)" font-family='"Liberation Sans", sans-serif' font-size="33" fill="#fff" stroke="#fff" stroke-width="0.7" stroke-linejoin="round">100ω<tspan dy="7" font-size="24">n</tspan></text>
<text transform="translate(782.37,701.90) scale(0.9292,0.8316)" font-family='"Liberation Sans", sans-serif' font-size="33" fill="#fff" stroke="#fff" stroke-width="0.7" stroke-linejoin="round">ω</text>
<text transform="translate(430.78,218.44) scale(1.0152,0.9903)" font-family='"Liberation Sans", "Noto Sans CJK SC", sans-serif' font-size="31" font-weight="700" fill="#fff" >渐<tspan dx="-1.6">近</tspan><tspan dx="3.0">近</tspan><tspan dx="1.6">似</tspan></text>
<text transform="translate(737.37,69.46) scale(1.0308,1.0400)" font-family='"Liberation Sans", sans-serif' font-size="33" fill="#fff" stroke="#fff" stroke-width="0.7" stroke-linejoin="round">ζ</text>
<text transform="translate(755.80,68.71) scale(1.1000,0.8182)" font-family='"Liberation Sans", sans-serif' font-size="33" fill="#fff" >=</text>
<text transform="translate(781.51,70.40) scale(0.8932,1.0261)" font-family='"Liberation Sans", sans-serif' font-size="33" fill="#fff" stroke="#fff" stroke-width="0.7" stroke-linejoin="round">0.1</text>
<text transform="translate(750.17,101.72) scale(1.0308,1.0133)" font-family='"Liberation Sans", sans-serif' font-size="33" fill="#fff" stroke="#fff" stroke-width="0.7" stroke-linejoin="round">ζ</text>
<text transform="translate(768.60,100.36) scale(1.1000,0.8182)" font-family='"Liberation Sans", sans-serif' font-size="33" fill="#fff" >=</text>
<text transform="translate(794.19,102.00) scale(1.0136,1.0217)" font-family='"Liberation Sans", sans-serif' font-size="33" fill="#fff" stroke="#fff" stroke-width="0.7" stroke-linejoin="round">0.2</text>
<text transform="translate(761.67,137.06) scale(1.0308,1.0233)" font-family='"Liberation Sans", sans-serif' font-size="33" fill="#fff" stroke="#fff" stroke-width="0.7" stroke-linejoin="round">ζ</text>
<text transform="translate(780.10,136.61) scale(1.1000,0.8182)" font-family='"Liberation Sans", sans-serif' font-size="33" fill="#fff" >=</text>
<text transform="translate(805.70,138.20) scale(1.0045,1.0174)" font-family='"Liberation Sans", sans-serif' font-size="33" fill="#fff" stroke="#fff" stroke-width="0.7" stroke-linejoin="round">0.4</text>
<text transform="translate(573.07,260.08) scale(1.0308,1.0867)" font-family='"Liberation Sans", sans-serif' font-size="33" fill="#fff" stroke="#fff" stroke-width="0.7" stroke-linejoin="round">ζ</text>
<text transform="translate(591.50,257.16) scale(1.1000,0.8182)" font-family='"Liberation Sans", sans-serif' font-size="33" fill="#fff" >=</text>
<text transform="translate(617.12,259.40) scale(0.9818,1.0739)" font-family='"Liberation Sans", sans-serif' font-size="33" fill="#fff" stroke="#fff" stroke-width="0.7" stroke-linejoin="round">0.7</text>
<text transform="translate(608.47,296.80) scale(1.0308,1.0167)" font-family='"Liberation Sans", sans-serif' font-size="33" fill="#fff" stroke="#fff" stroke-width="0.7" stroke-linejoin="round">ζ</text>
<text transform="translate(626.90,296.46) scale(1.1000,0.8182)" font-family='"Liberation Sans", sans-serif' font-size="33" fill="#fff" >=</text>
<text transform="translate(653.77,297.70) scale(0.9870,0.9870)" font-family='"Liberation Sans", sans-serif' font-size="33" fill="#fff" stroke="#fff" stroke-width="0.7" stroke-linejoin="round">1</text>
<text transform="translate(624.67,349.30) scale(1.0308,1.0500)" font-family='"Liberation Sans", sans-serif' font-size="33" fill="#fff" stroke="#fff" stroke-width="0.7" stroke-linejoin="round">ζ</text>
<text transform="translate(643.10,348.81) scale(1.1000,0.8182)" font-family='"Liberation Sans", sans-serif' font-size="33" fill="#fff" >=</text>
<text transform="translate(669.99,350.40) scale(1.0070,1.0174)" font-family='"Liberation Sans", sans-serif' font-size="33" fill="#fff" stroke="#fff" stroke-width="0.7" stroke-linejoin="round">1.5</text>
<text transform="translate(162.82,938.30) scale(0.8824,1.0130)" font-family='"Liberation Sans", sans-serif' font-size="33" fill="#fff" stroke="#fff" stroke-width="0.7" stroke-linejoin="round">0</text>
<text transform="translate(92.84,1031.39) scale(1.1812,1.1812)" font-family='"Liberation Sans", sans-serif' font-size="33" fill="#fff" >−</text>
<text transform="translate(123.20,1028.90) scale(1.1041,0.9833)" font-family='"Liberation Sans", sans-serif' font-size="33" fill="#fff" stroke="#fff" stroke-width="0.7" stroke-linejoin="round">π/4</text>
<text transform="translate(93.12,1119.46) scale(1.1875,1.1875)" font-family='"Liberation Sans", sans-serif' font-size="33" fill="#fff" >−</text>
<text transform="translate(121.79,1117.70) scale(1.1083,0.9750)" font-family='"Liberation Sans", sans-serif' font-size="33" fill="#fff" stroke="#fff" stroke-width="0.7" stroke-linejoin="round">π/2</text>
<text transform="translate(71.56,1208.01) scale(1.1188,1.1188)" font-family='"Liberation Sans", sans-serif' font-size="33" fill="#fff" >−</text>
<text transform="translate(99.17,1207.00) scale(1.1313,0.9750)" font-family='"Liberation Sans", sans-serif' font-size="33" fill="#fff" stroke="#fff" stroke-width="0.7" stroke-linejoin="round">3π/4</text>
<text transform="translate(125.29,1299.12) scale(1.1562,1.1562)" font-family='"Liberation Sans", sans-serif' font-size="33" fill="#fff" >−</text>
<text transform="translate(154.35,1297.10) scale(0.9476,0.8833)" font-family='"Liberation Sans", sans-serif' font-size="33" fill="#fff" stroke="#fff" stroke-width="0.7" stroke-linejoin="round">π</text>
<text transform="translate(68.75,1168.20) rotate(-90) scale(1.0336,0.9938)" font-family='"Liberation Sans", "DejaVu Sans", sans-serif' font-size="33" fill="#fff" stroke="#fff" stroke-width="0.7" stroke-linejoin="round"><tspan font-size="27">∢</tspan><tspan dx="5"> H(j</tspan><tspan dx="4" textLength="21.5" lengthAdjust="spacingAndGlyphs">ω</tspan><tspan dx="2.5">)</tspan></text>
<text transform="translate(358.19,1432.81) scale(1.0120,1.0700)" font-family='"Liberation Sans", sans-serif' font-size="33" fill="#fff" stroke="#fff" stroke-width="0.7" stroke-linejoin="round">0.1ω<tspan dy="7" font-size="24">n</tspan></text>
<text transform="translate(655.09,1436.57) scale(1.0054,0.8615)" font-family='"Liberation Sans", sans-serif' font-size="33" fill="#fff" stroke="#fff" stroke-width="0.7" stroke-linejoin="round">ω<tspan dy="7" font-size="24">n</tspan></text>
<text transform="translate(909.75,1439.36) scale(1.0260,1.0633)" font-family='"Liberation Sans", sans-serif' font-size="33" fill="#fff" stroke="#fff" stroke-width="0.7" stroke-linejoin="round">10ω<tspan dy="7" font-size="24">n</tspan></text>
<text transform="translate(1182.89,1441.31) scale(1.0538,1.1267)" font-family='"Liberation Sans", sans-serif' font-size="33" fill="#fff" stroke="#fff" stroke-width="0.7" stroke-linejoin="round">100ω<tspan dy="7" font-size="24">n</tspan></text>
<text transform="translate(776.42,1479.50) scale(0.9833,0.9789)" font-family='"Liberation Sans", sans-serif' font-size="33" fill="#fff" stroke="#fff" stroke-width="0.7" stroke-linejoin="round">ω</text>
<text transform="translate(887.49,1119.57) scale(1.0124,1.0065)" font-family='"Liberation Sans", "Noto Sans CJK SC", sans-serif' font-size="31" font-weight="700" fill="#fff" letter-spacing="2.2">渐近近似</text>
<text transform="translate(1197.01,1458.32) scale(0.9907,0.9389)" font-family='"Liberation Sans", "Noto Sans CJK SC", sans-serif' font-size="18" fill="#8c8c8c" >@稀土掘金技术社区</text>
<text transform="translate(713.27,882.86) scale(1.0308,1.0400)" font-family='"Liberation Sans", sans-serif' font-size="33" fill="#fff" stroke="#fff" stroke-width="0.7" stroke-linejoin="round">ζ</text>
<text transform="translate(731.70,881.51) scale(1.1000,0.8182)" font-family='"Liberation Sans", sans-serif' font-size="33" fill="#fff" >=</text>
<text transform="translate(757.37,882.90) scale(0.9295,1.0000)" font-family='"Liberation Sans", sans-serif' font-size="33" fill="#fff" stroke="#fff" stroke-width="0.7" stroke-linejoin="round">0.1</text>
<text transform="translate(734.77,927.88) scale(1.0308,1.0533)" font-family='"Liberation Sans", sans-serif' font-size="33" fill="#fff" stroke="#fff" stroke-width="0.7" stroke-linejoin="round">ζ</text>
<text transform="translate(753.20,926.06) scale(1.1000,0.8182)" font-family='"Liberation Sans", sans-serif' font-size="33" fill="#fff" >=</text>
<text transform="translate(778.82,927.80) scale(0.9795,1.0304)" font-family='"Liberation Sans", sans-serif' font-size="33" fill="#fff" stroke="#fff" stroke-width="0.7" stroke-linejoin="round">0.2</text>
<text transform="translate(759.07,972.06) scale(1.0308,1.0400)" font-family='"Liberation Sans", sans-serif' font-size="33" fill="#fff" stroke="#fff" stroke-width="0.7" stroke-linejoin="round">ζ</text>
<text transform="translate(777.50,971.21) scale(1.1000,0.8182)" font-family='"Liberation Sans", sans-serif' font-size="33" fill="#fff" >=</text>
<text transform="translate(803.09,972.90) scale(1.0114,1.0261)" font-family='"Liberation Sans", sans-serif' font-size="33" fill="#fff" stroke="#fff" stroke-width="0.7" stroke-linejoin="round">0.4</text>
<text transform="translate(338.47,1040.82) scale(1.0308,1.1300)" font-family='"Liberation Sans", sans-serif' font-size="33" fill="#fff" stroke="#fff" stroke-width="0.7" stroke-linejoin="round">ζ</text>
<text transform="translate(356.90,1038.71) scale(1.1000,0.8182)" font-family='"Liberation Sans", sans-serif' font-size="33" fill="#fff" >=</text>
<text transform="translate(383.74,1040.20) scale(1.0302,1.0087)" font-family='"Liberation Sans", sans-serif' font-size="33" fill="#fff" stroke="#fff" stroke-width="0.7" stroke-linejoin="round">1.5</text>
<text transform="translate(407.67,1078.04) scale(1.0308,1.0767)" font-family='"Liberation Sans", sans-serif' font-size="33" fill="#fff" stroke="#fff" stroke-width="0.7" stroke-linejoin="round">ζ</text>
<text transform="translate(426.10,1076.51) scale(1.1000,0.8182)" font-family='"Liberation Sans", sans-serif' font-size="33" fill="#fff" >=</text>
<text transform="translate(452.25,1077.90) scale(1.0000,1.0000)" font-family='"Liberation Sans", sans-serif' font-size="33" fill="#fff" stroke="#fff" stroke-width="0.7" stroke-linejoin="round">1</text>
<text transform="translate(434.67,1114.34) scale(1.0308,1.0767)" font-family='"Liberation Sans", sans-serif' font-size="33" fill="#fff" stroke="#fff" stroke-width="0.7" stroke-linejoin="round">ζ</text>
<text transform="translate(453.10,1112.76) scale(1.1000,0.8182)" font-family='"Liberation Sans", sans-serif' font-size="33" fill="#fff" >=</text>
<text transform="translate(478.73,1114.20) scale(0.9705,1.0043)" font-family='"Liberation Sans", sans-serif' font-size="33" fill="#fff" stroke="#fff" stroke-width="0.7" stroke-linejoin="round">0.7</text>
</g>
</svg></body></html>
